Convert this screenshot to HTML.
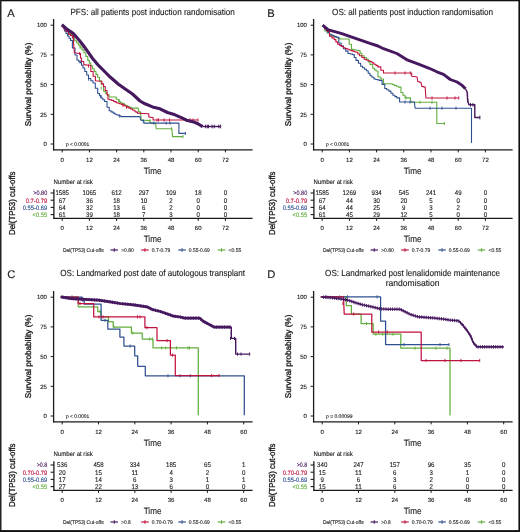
<!DOCTYPE html>
<html><head><meta charset="utf-8"><style>
html,body{margin:0;padding:0;background:#fff;}
svg{display:block;font-family:"Liberation Sans", sans-serif;text-rendering:geometricPrecision;will-change:transform;transform:translateZ(0);}
</style></head><body>
<svg width="520" height="532" viewBox="0 0 520 532">
<rect x="0" y="0" width="520" height="532" fill="#fff"/>
<text x="7.2" y="16.8" font-size="11.2" fill="#1a1a1a" stroke="#1a1a1a" stroke-width="0.12">A</text>
<text x="152.6" y="14.6" font-size="8.9" fill="#1a1a1a" stroke="#1a1a1a" stroke-width="0.12" text-anchor="middle" textLength="164.4" lengthAdjust="spacingAndGlyphs">PFS: all patients post induction randomisation</text>
<text transform="translate(31.3,84.4) rotate(-90)" font-size="8.3" text-anchor="middle" fill="#111" stroke="#111" stroke-width="0.3" textLength="83.5" lengthAdjust="spacingAndGlyphs">Survival probability (%)</text>
<line x1="53.6" y1="19" x2="53.6" y2="150.4" stroke="#1a1a1a" stroke-width="1.3"/>
<line x1="53.0" y1="149.8" x2="252.6" y2="149.8" stroke="#1a1a1a" stroke-width="1.3"/>
<line x1="50.6" y1="25.2" x2="53.6" y2="25.2" stroke="#1a1a1a" stroke-width="1.0"/>
<text x="46.9" y="27.4" font-size="6.0" fill="#1a1a1a" stroke="#1a1a1a" stroke-width="0.12" text-anchor="end">100</text>
<line x1="50.6" y1="54.9" x2="53.6" y2="54.9" stroke="#1a1a1a" stroke-width="1.0"/>
<text x="46.9" y="57.1" font-size="6.0" fill="#1a1a1a" stroke="#1a1a1a" stroke-width="0.12" text-anchor="end">75</text>
<line x1="50.6" y1="84.6" x2="53.6" y2="84.6" stroke="#1a1a1a" stroke-width="1.0"/>
<text x="46.9" y="86.8" font-size="6.0" fill="#1a1a1a" stroke="#1a1a1a" stroke-width="0.12" text-anchor="end">50</text>
<line x1="50.6" y1="114.3" x2="53.6" y2="114.3" stroke="#1a1a1a" stroke-width="1.0"/>
<text x="46.9" y="116.5" font-size="6.0" fill="#1a1a1a" stroke="#1a1a1a" stroke-width="0.12" text-anchor="end">25</text>
<line x1="50.6" y1="144.0" x2="53.6" y2="144.0" stroke="#1a1a1a" stroke-width="1.0"/>
<text x="46.9" y="146.2" font-size="6.0" fill="#1a1a1a" stroke="#1a1a1a" stroke-width="0.12" text-anchor="end">0</text>
<line x1="62.2" y1="149.8" x2="62.2" y2="152.4" stroke="#1a1a1a" stroke-width="1.0"/>
<text x="62.2" y="161.5" font-size="6.0" fill="#1a1a1a" stroke="#1a1a1a" stroke-width="0.12" text-anchor="middle">0</text>
<line x1="89.4" y1="149.8" x2="89.4" y2="152.4" stroke="#1a1a1a" stroke-width="1.0"/>
<text x="89.4" y="161.5" font-size="6.0" fill="#1a1a1a" stroke="#1a1a1a" stroke-width="0.12" text-anchor="middle">12</text>
<line x1="116.6" y1="149.8" x2="116.6" y2="152.4" stroke="#1a1a1a" stroke-width="1.0"/>
<text x="116.6" y="161.5" font-size="6.0" fill="#1a1a1a" stroke="#1a1a1a" stroke-width="0.12" text-anchor="middle">24</text>
<line x1="143.8" y1="149.8" x2="143.8" y2="152.4" stroke="#1a1a1a" stroke-width="1.0"/>
<text x="143.8" y="161.5" font-size="6.0" fill="#1a1a1a" stroke="#1a1a1a" stroke-width="0.12" text-anchor="middle">36</text>
<line x1="171.0" y1="149.8" x2="171.0" y2="152.4" stroke="#1a1a1a" stroke-width="1.0"/>
<text x="171.0" y="161.5" font-size="6.0" fill="#1a1a1a" stroke="#1a1a1a" stroke-width="0.12" text-anchor="middle">48</text>
<line x1="198.2" y1="149.8" x2="198.2" y2="152.4" stroke="#1a1a1a" stroke-width="1.0"/>
<text x="198.2" y="161.5" font-size="6.0" fill="#1a1a1a" stroke="#1a1a1a" stroke-width="0.12" text-anchor="middle">60</text>
<line x1="225.39999999999998" y1="149.8" x2="225.39999999999998" y2="152.4" stroke="#1a1a1a" stroke-width="1.0"/>
<text x="225.39999999999998" y="161.5" font-size="6.0" fill="#1a1a1a" stroke="#1a1a1a" stroke-width="0.12" text-anchor="middle">72</text>
<text x="152.6" y="173.6" font-size="9.2" fill="#1a1a1a" stroke="#1a1a1a" stroke-width="0.12" text-anchor="middle" textLength="17.8" lengthAdjust="spacingAndGlyphs">Time</text>
<text x="66.0" y="145.8" font-size="5.2" fill="#1a1a1a" stroke="#1a1a1a" stroke-width="0.12" textLength="23.2" lengthAdjust="spacingAndGlyphs">p &lt; 0.0001</text>
<text x="53.4" y="184.2" font-size="6.6" fill="#1a1a1a" stroke="#1a1a1a" stroke-width="0.12" textLength="39.4" lengthAdjust="spacingAndGlyphs">Number at risk</text>
<line x1="53.9" y1="189.2" x2="53.9" y2="218.9" stroke="#1a1a1a" stroke-width="1.3"/>
<line x1="53.3" y1="218.3" x2="252.6" y2="218.3" stroke="#1a1a1a" stroke-width="1.3"/>
<line x1="50.6" y1="193.0" x2="53.9" y2="193.0" stroke="#1a1a1a" stroke-width="1.1"/>
<text x="47.2" y="195.3" font-size="6.3" fill="#46185f" stroke="#46185f" stroke-width="0.12" text-anchor="end" textLength="13.9" lengthAdjust="spacingAndGlyphs">&gt;0.80</text>
<text x="62.2" y="195.4" font-size="6.8" fill="#1a1a1a" stroke="#1a1a1a" stroke-width="0.12" text-anchor="middle" textLength="13.6" lengthAdjust="spacingAndGlyphs">1585</text>
<text x="89.4" y="195.4" font-size="6.8" fill="#1a1a1a" stroke="#1a1a1a" stroke-width="0.12" text-anchor="middle" textLength="13.6" lengthAdjust="spacingAndGlyphs">1065</text>
<text x="116.6" y="195.4" font-size="6.8" fill="#1a1a1a" stroke="#1a1a1a" stroke-width="0.12" text-anchor="middle" textLength="10.2" lengthAdjust="spacingAndGlyphs">612</text>
<text x="143.8" y="195.4" font-size="6.8" fill="#1a1a1a" stroke="#1a1a1a" stroke-width="0.12" text-anchor="middle" textLength="10.2" lengthAdjust="spacingAndGlyphs">297</text>
<text x="171.0" y="195.4" font-size="6.8" fill="#1a1a1a" stroke="#1a1a1a" stroke-width="0.12" text-anchor="middle" textLength="10.2" lengthAdjust="spacingAndGlyphs">109</text>
<text x="198.2" y="195.4" font-size="6.8" fill="#1a1a1a" stroke="#1a1a1a" stroke-width="0.12" text-anchor="middle" textLength="6.8" lengthAdjust="spacingAndGlyphs">18</text>
<text x="225.39999999999998" y="195.4" font-size="6.8" fill="#1a1a1a" stroke="#1a1a1a" stroke-width="0.12" text-anchor="middle" textLength="3.4" lengthAdjust="spacingAndGlyphs">0</text>
<line x1="50.6" y1="200.2" x2="53.9" y2="200.2" stroke="#1a1a1a" stroke-width="1.1"/>
<text x="47.2" y="202.5" font-size="6.3" fill="#c0123e" stroke="#c0123e" stroke-width="0.12" text-anchor="end" textLength="21.5" lengthAdjust="spacingAndGlyphs">0.7-0.79</text>
<text x="62.2" y="202.6" font-size="6.8" fill="#1a1a1a" stroke="#1a1a1a" stroke-width="0.12" text-anchor="middle" textLength="6.8" lengthAdjust="spacingAndGlyphs">67</text>
<text x="89.4" y="202.6" font-size="6.8" fill="#1a1a1a" stroke="#1a1a1a" stroke-width="0.12" text-anchor="middle" textLength="6.8" lengthAdjust="spacingAndGlyphs">36</text>
<text x="116.6" y="202.6" font-size="6.8" fill="#1a1a1a" stroke="#1a1a1a" stroke-width="0.12" text-anchor="middle" textLength="6.8" lengthAdjust="spacingAndGlyphs">18</text>
<text x="143.8" y="202.6" font-size="6.8" fill="#1a1a1a" stroke="#1a1a1a" stroke-width="0.12" text-anchor="middle" textLength="6.8" lengthAdjust="spacingAndGlyphs">10</text>
<text x="171.0" y="202.6" font-size="6.8" fill="#1a1a1a" stroke="#1a1a1a" stroke-width="0.12" text-anchor="middle" textLength="3.4" lengthAdjust="spacingAndGlyphs">2</text>
<text x="198.2" y="202.6" font-size="6.8" fill="#1a1a1a" stroke="#1a1a1a" stroke-width="0.12" text-anchor="middle" textLength="3.4" lengthAdjust="spacingAndGlyphs">0</text>
<text x="225.39999999999998" y="202.6" font-size="6.8" fill="#1a1a1a" stroke="#1a1a1a" stroke-width="0.12" text-anchor="middle" textLength="3.4" lengthAdjust="spacingAndGlyphs">0</text>
<line x1="50.6" y1="207.4" x2="53.9" y2="207.4" stroke="#1a1a1a" stroke-width="1.1"/>
<text x="47.2" y="209.70000000000002" font-size="6.3" fill="#2f5090" stroke="#2f5090" stroke-width="0.12" text-anchor="end" textLength="24.5" lengthAdjust="spacingAndGlyphs">0.55-0.69</text>
<text x="62.2" y="209.8" font-size="6.8" fill="#1a1a1a" stroke="#1a1a1a" stroke-width="0.12" text-anchor="middle" textLength="6.8" lengthAdjust="spacingAndGlyphs">64</text>
<text x="89.4" y="209.8" font-size="6.8" fill="#1a1a1a" stroke="#1a1a1a" stroke-width="0.12" text-anchor="middle" textLength="6.8" lengthAdjust="spacingAndGlyphs">32</text>
<text x="116.6" y="209.8" font-size="6.8" fill="#1a1a1a" stroke="#1a1a1a" stroke-width="0.12" text-anchor="middle" textLength="6.8" lengthAdjust="spacingAndGlyphs">13</text>
<text x="143.8" y="209.8" font-size="6.8" fill="#1a1a1a" stroke="#1a1a1a" stroke-width="0.12" text-anchor="middle" textLength="3.4" lengthAdjust="spacingAndGlyphs">6</text>
<text x="171.0" y="209.8" font-size="6.8" fill="#1a1a1a" stroke="#1a1a1a" stroke-width="0.12" text-anchor="middle" textLength="3.4" lengthAdjust="spacingAndGlyphs">2</text>
<text x="198.2" y="209.8" font-size="6.8" fill="#1a1a1a" stroke="#1a1a1a" stroke-width="0.12" text-anchor="middle" textLength="3.4" lengthAdjust="spacingAndGlyphs">0</text>
<text x="225.39999999999998" y="209.8" font-size="6.8" fill="#1a1a1a" stroke="#1a1a1a" stroke-width="0.12" text-anchor="middle" textLength="3.4" lengthAdjust="spacingAndGlyphs">0</text>
<line x1="50.6" y1="214.6" x2="53.9" y2="214.6" stroke="#1a1a1a" stroke-width="1.1"/>
<text x="47.2" y="216.9" font-size="6.3" fill="#62ae3c" stroke="#62ae3c" stroke-width="0.12" text-anchor="end" textLength="14.6" lengthAdjust="spacingAndGlyphs">&lt;0.55</text>
<text x="62.2" y="217.0" font-size="6.8" fill="#1a1a1a" stroke="#1a1a1a" stroke-width="0.12" text-anchor="middle" textLength="6.8" lengthAdjust="spacingAndGlyphs">61</text>
<text x="89.4" y="217.0" font-size="6.8" fill="#1a1a1a" stroke="#1a1a1a" stroke-width="0.12" text-anchor="middle" textLength="6.8" lengthAdjust="spacingAndGlyphs">39</text>
<text x="116.6" y="217.0" font-size="6.8" fill="#1a1a1a" stroke="#1a1a1a" stroke-width="0.12" text-anchor="middle" textLength="6.8" lengthAdjust="spacingAndGlyphs">18</text>
<text x="143.8" y="217.0" font-size="6.8" fill="#1a1a1a" stroke="#1a1a1a" stroke-width="0.12" text-anchor="middle" textLength="3.4" lengthAdjust="spacingAndGlyphs">7</text>
<text x="171.0" y="217.0" font-size="6.8" fill="#1a1a1a" stroke="#1a1a1a" stroke-width="0.12" text-anchor="middle" textLength="3.4" lengthAdjust="spacingAndGlyphs">3</text>
<text x="198.2" y="217.0" font-size="6.8" fill="#1a1a1a" stroke="#1a1a1a" stroke-width="0.12" text-anchor="middle" textLength="3.4" lengthAdjust="spacingAndGlyphs">0</text>
<text x="225.39999999999998" y="217.0" font-size="6.8" fill="#1a1a1a" stroke="#1a1a1a" stroke-width="0.12" text-anchor="middle" textLength="3.4" lengthAdjust="spacingAndGlyphs">0</text>
<line x1="62.2" y1="218.3" x2="62.2" y2="220.9" stroke="#1a1a1a" stroke-width="1.0"/>
<text x="62.2" y="230.3" font-size="6.0" fill="#1a1a1a" stroke="#1a1a1a" stroke-width="0.12" text-anchor="middle">0</text>
<line x1="89.4" y1="218.3" x2="89.4" y2="220.9" stroke="#1a1a1a" stroke-width="1.0"/>
<text x="89.4" y="230.3" font-size="6.0" fill="#1a1a1a" stroke="#1a1a1a" stroke-width="0.12" text-anchor="middle">12</text>
<line x1="116.6" y1="218.3" x2="116.6" y2="220.9" stroke="#1a1a1a" stroke-width="1.0"/>
<text x="116.6" y="230.3" font-size="6.0" fill="#1a1a1a" stroke="#1a1a1a" stroke-width="0.12" text-anchor="middle">24</text>
<line x1="143.8" y1="218.3" x2="143.8" y2="220.9" stroke="#1a1a1a" stroke-width="1.0"/>
<text x="143.8" y="230.3" font-size="6.0" fill="#1a1a1a" stroke="#1a1a1a" stroke-width="0.12" text-anchor="middle">36</text>
<line x1="171.0" y1="218.3" x2="171.0" y2="220.9" stroke="#1a1a1a" stroke-width="1.0"/>
<text x="171.0" y="230.3" font-size="6.0" fill="#1a1a1a" stroke="#1a1a1a" stroke-width="0.12" text-anchor="middle">48</text>
<line x1="198.2" y1="218.3" x2="198.2" y2="220.9" stroke="#1a1a1a" stroke-width="1.0"/>
<text x="198.2" y="230.3" font-size="6.0" fill="#1a1a1a" stroke="#1a1a1a" stroke-width="0.12" text-anchor="middle">60</text>
<line x1="225.39999999999998" y1="218.3" x2="225.39999999999998" y2="220.9" stroke="#1a1a1a" stroke-width="1.0"/>
<text x="225.39999999999998" y="230.3" font-size="6.0" fill="#1a1a1a" stroke="#1a1a1a" stroke-width="0.12" text-anchor="middle">72</text>
<text x="152.6" y="242.3" font-size="9.2" fill="#1a1a1a" stroke="#1a1a1a" stroke-width="0.12" text-anchor="middle" textLength="17.8" lengthAdjust="spacingAndGlyphs">Time</text>
<text transform="translate(14.6,203.2) rotate(-90)" font-size="8.6" text-anchor="middle" fill="#111" stroke="#111" stroke-width="0.3" textLength="63.5" lengthAdjust="spacingAndGlyphs">Del(TP53) cut-offs</text>
<text x="62.9" y="251.9" font-size="5.3" fill="#1a1a1a" stroke="#1a1a1a" stroke-width="0.12" textLength="40.8" lengthAdjust="spacingAndGlyphs">Del(TP53) Cut-offs</text>
<line x1="110.5" y1="250.0" x2="118.0" y2="250.0" stroke="#46185f" stroke-width="1.2"/>
<line x1="114.25" y1="248.2" x2="114.25" y2="251.8" stroke="#46185f" stroke-width="1.0"/>
<text x="121.2" y="251.9" font-size="5.3" fill="#1a1a1a" stroke="#1a1a1a" stroke-width="0.12" textLength="12.5" lengthAdjust="spacingAndGlyphs">&gt;0.80</text>
<line x1="141.2" y1="250.0" x2="148.7" y2="250.0" stroke="#c0123e" stroke-width="1.2"/>
<line x1="144.95" y1="248.2" x2="144.95" y2="251.8" stroke="#c0123e" stroke-width="1.0"/>
<text x="151.8" y="251.9" font-size="5.3" fill="#1a1a1a" stroke="#1a1a1a" stroke-width="0.12" textLength="18.5" lengthAdjust="spacingAndGlyphs">0.7-0.79</text>
<line x1="178.3" y1="250.0" x2="185.8" y2="250.0" stroke="#2f5090" stroke-width="1.2"/>
<line x1="182.05" y1="248.2" x2="182.05" y2="251.8" stroke="#2f5090" stroke-width="1.0"/>
<text x="188.8" y="251.9" font-size="5.3" fill="#1a1a1a" stroke="#1a1a1a" stroke-width="0.12" textLength="21.0" lengthAdjust="spacingAndGlyphs">0.55-0.69</text>
<line x1="217.8" y1="250.0" x2="225.3" y2="250.0" stroke="#62ae3c" stroke-width="1.2"/>
<line x1="221.55" y1="248.2" x2="221.55" y2="251.8" stroke="#62ae3c" stroke-width="1.0"/>
<text x="228.5" y="251.9" font-size="5.3" fill="#1a1a1a" stroke="#1a1a1a" stroke-width="0.12" textLength="12.8" lengthAdjust="spacingAndGlyphs">&lt;0.55</text>
<text x="267.2" y="16.8" font-size="11.2" fill="#1a1a1a" stroke="#1a1a1a" stroke-width="0.12">B</text>
<text x="412.6" y="14.6" font-size="8.9" fill="#1a1a1a" stroke="#1a1a1a" stroke-width="0.12" text-anchor="middle" textLength="161.1" lengthAdjust="spacingAndGlyphs">OS: all patients post induction randomisation</text>
<text transform="translate(291.3,84.4) rotate(-90)" font-size="8.3" text-anchor="middle" fill="#111" stroke="#111" stroke-width="0.3" textLength="83.5" lengthAdjust="spacingAndGlyphs">Survival probability (%)</text>
<line x1="313.6" y1="19" x2="313.6" y2="150.4" stroke="#1a1a1a" stroke-width="1.3"/>
<line x1="313.0" y1="149.8" x2="512.6" y2="149.8" stroke="#1a1a1a" stroke-width="1.3"/>
<line x1="310.6" y1="25.2" x2="313.6" y2="25.2" stroke="#1a1a1a" stroke-width="1.0"/>
<text x="306.9" y="27.4" font-size="6.0" fill="#1a1a1a" stroke="#1a1a1a" stroke-width="0.12" text-anchor="end">100</text>
<line x1="310.6" y1="54.9" x2="313.6" y2="54.9" stroke="#1a1a1a" stroke-width="1.0"/>
<text x="306.9" y="57.1" font-size="6.0" fill="#1a1a1a" stroke="#1a1a1a" stroke-width="0.12" text-anchor="end">75</text>
<line x1="310.6" y1="84.6" x2="313.6" y2="84.6" stroke="#1a1a1a" stroke-width="1.0"/>
<text x="306.9" y="86.8" font-size="6.0" fill="#1a1a1a" stroke="#1a1a1a" stroke-width="0.12" text-anchor="end">50</text>
<line x1="310.6" y1="114.3" x2="313.6" y2="114.3" stroke="#1a1a1a" stroke-width="1.0"/>
<text x="306.9" y="116.5" font-size="6.0" fill="#1a1a1a" stroke="#1a1a1a" stroke-width="0.12" text-anchor="end">25</text>
<line x1="310.6" y1="144.0" x2="313.6" y2="144.0" stroke="#1a1a1a" stroke-width="1.0"/>
<text x="306.9" y="146.2" font-size="6.0" fill="#1a1a1a" stroke="#1a1a1a" stroke-width="0.12" text-anchor="end">0</text>
<line x1="322.2" y1="149.8" x2="322.2" y2="152.4" stroke="#1a1a1a" stroke-width="1.0"/>
<text x="322.2" y="161.5" font-size="6.0" fill="#1a1a1a" stroke="#1a1a1a" stroke-width="0.12" text-anchor="middle">0</text>
<line x1="349.4" y1="149.8" x2="349.4" y2="152.4" stroke="#1a1a1a" stroke-width="1.0"/>
<text x="349.4" y="161.5" font-size="6.0" fill="#1a1a1a" stroke="#1a1a1a" stroke-width="0.12" text-anchor="middle">12</text>
<line x1="376.59999999999997" y1="149.8" x2="376.59999999999997" y2="152.4" stroke="#1a1a1a" stroke-width="1.0"/>
<text x="376.59999999999997" y="161.5" font-size="6.0" fill="#1a1a1a" stroke="#1a1a1a" stroke-width="0.12" text-anchor="middle">24</text>
<line x1="403.79999999999995" y1="149.8" x2="403.79999999999995" y2="152.4" stroke="#1a1a1a" stroke-width="1.0"/>
<text x="403.79999999999995" y="161.5" font-size="6.0" fill="#1a1a1a" stroke="#1a1a1a" stroke-width="0.12" text-anchor="middle">36</text>
<line x1="431.0" y1="149.8" x2="431.0" y2="152.4" stroke="#1a1a1a" stroke-width="1.0"/>
<text x="431.0" y="161.5" font-size="6.0" fill="#1a1a1a" stroke="#1a1a1a" stroke-width="0.12" text-anchor="middle">48</text>
<line x1="458.2" y1="149.8" x2="458.2" y2="152.4" stroke="#1a1a1a" stroke-width="1.0"/>
<text x="458.2" y="161.5" font-size="6.0" fill="#1a1a1a" stroke="#1a1a1a" stroke-width="0.12" text-anchor="middle">60</text>
<line x1="485.4" y1="149.8" x2="485.4" y2="152.4" stroke="#1a1a1a" stroke-width="1.0"/>
<text x="485.4" y="161.5" font-size="6.0" fill="#1a1a1a" stroke="#1a1a1a" stroke-width="0.12" text-anchor="middle">72</text>
<text x="412.6" y="173.6" font-size="9.2" fill="#1a1a1a" stroke="#1a1a1a" stroke-width="0.12" text-anchor="middle" textLength="17.8" lengthAdjust="spacingAndGlyphs">Time</text>
<text x="326.0" y="145.8" font-size="5.2" fill="#1a1a1a" stroke="#1a1a1a" stroke-width="0.12" textLength="23.2" lengthAdjust="spacingAndGlyphs">p &lt; 0.0001</text>
<text x="313.4" y="184.2" font-size="6.6" fill="#1a1a1a" stroke="#1a1a1a" stroke-width="0.12" textLength="39.4" lengthAdjust="spacingAndGlyphs">Number at risk</text>
<line x1="313.9" y1="189.2" x2="313.9" y2="218.9" stroke="#1a1a1a" stroke-width="1.3"/>
<line x1="313.3" y1="218.3" x2="512.6" y2="218.3" stroke="#1a1a1a" stroke-width="1.3"/>
<line x1="310.6" y1="193.0" x2="313.9" y2="193.0" stroke="#1a1a1a" stroke-width="1.1"/>
<text x="307.2" y="195.3" font-size="6.3" fill="#46185f" stroke="#46185f" stroke-width="0.12" text-anchor="end" textLength="13.9" lengthAdjust="spacingAndGlyphs">&gt;0.80</text>
<text x="322.2" y="195.4" font-size="6.8" fill="#1a1a1a" stroke="#1a1a1a" stroke-width="0.12" text-anchor="middle" textLength="13.6" lengthAdjust="spacingAndGlyphs">1585</text>
<text x="349.4" y="195.4" font-size="6.8" fill="#1a1a1a" stroke="#1a1a1a" stroke-width="0.12" text-anchor="middle" textLength="13.6" lengthAdjust="spacingAndGlyphs">1269</text>
<text x="376.59999999999997" y="195.4" font-size="6.8" fill="#1a1a1a" stroke="#1a1a1a" stroke-width="0.12" text-anchor="middle" textLength="10.2" lengthAdjust="spacingAndGlyphs">934</text>
<text x="403.79999999999995" y="195.4" font-size="6.8" fill="#1a1a1a" stroke="#1a1a1a" stroke-width="0.12" text-anchor="middle" textLength="10.2" lengthAdjust="spacingAndGlyphs">545</text>
<text x="431.0" y="195.4" font-size="6.8" fill="#1a1a1a" stroke="#1a1a1a" stroke-width="0.12" text-anchor="middle" textLength="10.2" lengthAdjust="spacingAndGlyphs">241</text>
<text x="458.2" y="195.4" font-size="6.8" fill="#1a1a1a" stroke="#1a1a1a" stroke-width="0.12" text-anchor="middle" textLength="6.8" lengthAdjust="spacingAndGlyphs">49</text>
<text x="485.4" y="195.4" font-size="6.8" fill="#1a1a1a" stroke="#1a1a1a" stroke-width="0.12" text-anchor="middle" textLength="3.4" lengthAdjust="spacingAndGlyphs">0</text>
<line x1="310.6" y1="200.2" x2="313.9" y2="200.2" stroke="#1a1a1a" stroke-width="1.1"/>
<text x="307.2" y="202.5" font-size="6.3" fill="#c0123e" stroke="#c0123e" stroke-width="0.12" text-anchor="end" textLength="21.5" lengthAdjust="spacingAndGlyphs">0.7-0.79</text>
<text x="322.2" y="202.6" font-size="6.8" fill="#1a1a1a" stroke="#1a1a1a" stroke-width="0.12" text-anchor="middle" textLength="6.8" lengthAdjust="spacingAndGlyphs">67</text>
<text x="349.4" y="202.6" font-size="6.8" fill="#1a1a1a" stroke="#1a1a1a" stroke-width="0.12" text-anchor="middle" textLength="6.8" lengthAdjust="spacingAndGlyphs">44</text>
<text x="376.59999999999997" y="202.6" font-size="6.8" fill="#1a1a1a" stroke="#1a1a1a" stroke-width="0.12" text-anchor="middle" textLength="6.8" lengthAdjust="spacingAndGlyphs">30</text>
<text x="403.79999999999995" y="202.6" font-size="6.8" fill="#1a1a1a" stroke="#1a1a1a" stroke-width="0.12" text-anchor="middle" textLength="6.8" lengthAdjust="spacingAndGlyphs">20</text>
<text x="431.0" y="202.6" font-size="6.8" fill="#1a1a1a" stroke="#1a1a1a" stroke-width="0.12" text-anchor="middle" textLength="3.4" lengthAdjust="spacingAndGlyphs">5</text>
<text x="458.2" y="202.6" font-size="6.8" fill="#1a1a1a" stroke="#1a1a1a" stroke-width="0.12" text-anchor="middle" textLength="3.4" lengthAdjust="spacingAndGlyphs">0</text>
<text x="485.4" y="202.6" font-size="6.8" fill="#1a1a1a" stroke="#1a1a1a" stroke-width="0.12" text-anchor="middle" textLength="3.4" lengthAdjust="spacingAndGlyphs">0</text>
<line x1="310.6" y1="207.4" x2="313.9" y2="207.4" stroke="#1a1a1a" stroke-width="1.1"/>
<text x="307.2" y="209.70000000000002" font-size="6.3" fill="#2f5090" stroke="#2f5090" stroke-width="0.12" text-anchor="end" textLength="24.5" lengthAdjust="spacingAndGlyphs">0.55-0.69</text>
<text x="322.2" y="209.8" font-size="6.8" fill="#1a1a1a" stroke="#1a1a1a" stroke-width="0.12" text-anchor="middle" textLength="6.8" lengthAdjust="spacingAndGlyphs">64</text>
<text x="349.4" y="209.8" font-size="6.8" fill="#1a1a1a" stroke="#1a1a1a" stroke-width="0.12" text-anchor="middle" textLength="6.8" lengthAdjust="spacingAndGlyphs">44</text>
<text x="376.59999999999997" y="209.8" font-size="6.8" fill="#1a1a1a" stroke="#1a1a1a" stroke-width="0.12" text-anchor="middle" textLength="6.8" lengthAdjust="spacingAndGlyphs">25</text>
<text x="403.79999999999995" y="209.8" font-size="6.8" fill="#1a1a1a" stroke="#1a1a1a" stroke-width="0.12" text-anchor="middle" textLength="3.4" lengthAdjust="spacingAndGlyphs">9</text>
<text x="431.0" y="209.8" font-size="6.8" fill="#1a1a1a" stroke="#1a1a1a" stroke-width="0.12" text-anchor="middle" textLength="3.4" lengthAdjust="spacingAndGlyphs">3</text>
<text x="458.2" y="209.8" font-size="6.8" fill="#1a1a1a" stroke="#1a1a1a" stroke-width="0.12" text-anchor="middle" textLength="3.4" lengthAdjust="spacingAndGlyphs">2</text>
<text x="485.4" y="209.8" font-size="6.8" fill="#1a1a1a" stroke="#1a1a1a" stroke-width="0.12" text-anchor="middle" textLength="3.4" lengthAdjust="spacingAndGlyphs">0</text>
<line x1="310.6" y1="214.6" x2="313.9" y2="214.6" stroke="#1a1a1a" stroke-width="1.1"/>
<text x="307.2" y="216.9" font-size="6.3" fill="#62ae3c" stroke="#62ae3c" stroke-width="0.12" text-anchor="end" textLength="14.6" lengthAdjust="spacingAndGlyphs">&lt;0.55</text>
<text x="322.2" y="217.0" font-size="6.8" fill="#1a1a1a" stroke="#1a1a1a" stroke-width="0.12" text-anchor="middle" textLength="6.8" lengthAdjust="spacingAndGlyphs">61</text>
<text x="349.4" y="217.0" font-size="6.8" fill="#1a1a1a" stroke="#1a1a1a" stroke-width="0.12" text-anchor="middle" textLength="6.8" lengthAdjust="spacingAndGlyphs">45</text>
<text x="376.59999999999997" y="217.0" font-size="6.8" fill="#1a1a1a" stroke="#1a1a1a" stroke-width="0.12" text-anchor="middle" textLength="6.8" lengthAdjust="spacingAndGlyphs">29</text>
<text x="403.79999999999995" y="217.0" font-size="6.8" fill="#1a1a1a" stroke="#1a1a1a" stroke-width="0.12" text-anchor="middle" textLength="6.8" lengthAdjust="spacingAndGlyphs">12</text>
<text x="431.0" y="217.0" font-size="6.8" fill="#1a1a1a" stroke="#1a1a1a" stroke-width="0.12" text-anchor="middle" textLength="3.4" lengthAdjust="spacingAndGlyphs">5</text>
<text x="458.2" y="217.0" font-size="6.8" fill="#1a1a1a" stroke="#1a1a1a" stroke-width="0.12" text-anchor="middle" textLength="3.4" lengthAdjust="spacingAndGlyphs">0</text>
<text x="485.4" y="217.0" font-size="6.8" fill="#1a1a1a" stroke="#1a1a1a" stroke-width="0.12" text-anchor="middle" textLength="3.4" lengthAdjust="spacingAndGlyphs">0</text>
<line x1="322.2" y1="218.3" x2="322.2" y2="220.9" stroke="#1a1a1a" stroke-width="1.0"/>
<text x="322.2" y="230.3" font-size="6.0" fill="#1a1a1a" stroke="#1a1a1a" stroke-width="0.12" text-anchor="middle">0</text>
<line x1="349.4" y1="218.3" x2="349.4" y2="220.9" stroke="#1a1a1a" stroke-width="1.0"/>
<text x="349.4" y="230.3" font-size="6.0" fill="#1a1a1a" stroke="#1a1a1a" stroke-width="0.12" text-anchor="middle">12</text>
<line x1="376.59999999999997" y1="218.3" x2="376.59999999999997" y2="220.9" stroke="#1a1a1a" stroke-width="1.0"/>
<text x="376.59999999999997" y="230.3" font-size="6.0" fill="#1a1a1a" stroke="#1a1a1a" stroke-width="0.12" text-anchor="middle">24</text>
<line x1="403.79999999999995" y1="218.3" x2="403.79999999999995" y2="220.9" stroke="#1a1a1a" stroke-width="1.0"/>
<text x="403.79999999999995" y="230.3" font-size="6.0" fill="#1a1a1a" stroke="#1a1a1a" stroke-width="0.12" text-anchor="middle">36</text>
<line x1="431.0" y1="218.3" x2="431.0" y2="220.9" stroke="#1a1a1a" stroke-width="1.0"/>
<text x="431.0" y="230.3" font-size="6.0" fill="#1a1a1a" stroke="#1a1a1a" stroke-width="0.12" text-anchor="middle">48</text>
<line x1="458.2" y1="218.3" x2="458.2" y2="220.9" stroke="#1a1a1a" stroke-width="1.0"/>
<text x="458.2" y="230.3" font-size="6.0" fill="#1a1a1a" stroke="#1a1a1a" stroke-width="0.12" text-anchor="middle">60</text>
<line x1="485.4" y1="218.3" x2="485.4" y2="220.9" stroke="#1a1a1a" stroke-width="1.0"/>
<text x="485.4" y="230.3" font-size="6.0" fill="#1a1a1a" stroke="#1a1a1a" stroke-width="0.12" text-anchor="middle">72</text>
<text x="412.6" y="242.3" font-size="9.2" fill="#1a1a1a" stroke="#1a1a1a" stroke-width="0.12" text-anchor="middle" textLength="17.8" lengthAdjust="spacingAndGlyphs">Time</text>
<text transform="translate(274.6,203.2) rotate(-90)" font-size="8.6" text-anchor="middle" fill="#111" stroke="#111" stroke-width="0.3" textLength="63.5" lengthAdjust="spacingAndGlyphs">Del(TP53) cut-offs</text>
<text x="322.9" y="251.9" font-size="5.3" fill="#1a1a1a" stroke="#1a1a1a" stroke-width="0.12" textLength="40.8" lengthAdjust="spacingAndGlyphs">Del(TP53) Cut-offs</text>
<line x1="370.5" y1="250.0" x2="378.0" y2="250.0" stroke="#46185f" stroke-width="1.2"/>
<line x1="374.25" y1="248.2" x2="374.25" y2="251.8" stroke="#46185f" stroke-width="1.0"/>
<text x="381.2" y="251.9" font-size="5.3" fill="#1a1a1a" stroke="#1a1a1a" stroke-width="0.12" textLength="12.5" lengthAdjust="spacingAndGlyphs">&gt;0.80</text>
<line x1="401.2" y1="250.0" x2="408.7" y2="250.0" stroke="#c0123e" stroke-width="1.2"/>
<line x1="404.95" y1="248.2" x2="404.95" y2="251.8" stroke="#c0123e" stroke-width="1.0"/>
<text x="411.8" y="251.9" font-size="5.3" fill="#1a1a1a" stroke="#1a1a1a" stroke-width="0.12" textLength="18.5" lengthAdjust="spacingAndGlyphs">0.7-0.79</text>
<line x1="438.3" y1="250.0" x2="445.8" y2="250.0" stroke="#2f5090" stroke-width="1.2"/>
<line x1="442.05" y1="248.2" x2="442.05" y2="251.8" stroke="#2f5090" stroke-width="1.0"/>
<text x="448.8" y="251.9" font-size="5.3" fill="#1a1a1a" stroke="#1a1a1a" stroke-width="0.12" textLength="21.0" lengthAdjust="spacingAndGlyphs">0.55-0.69</text>
<line x1="477.8" y1="250.0" x2="485.3" y2="250.0" stroke="#62ae3c" stroke-width="1.2"/>
<line x1="481.55" y1="248.2" x2="481.55" y2="251.8" stroke="#62ae3c" stroke-width="1.0"/>
<text x="488.5" y="251.9" font-size="5.3" fill="#1a1a1a" stroke="#1a1a1a" stroke-width="0.12" textLength="12.8" lengthAdjust="spacingAndGlyphs">&lt;0.55</text>
<text x="7.2" y="278.3" font-size="11.2" fill="#1a1a1a" stroke="#1a1a1a" stroke-width="0.12">C</text>
<text x="152.6" y="275.8" font-size="8.9" fill="#1a1a1a" stroke="#1a1a1a" stroke-width="0.12" text-anchor="middle" textLength="184.6" lengthAdjust="spacingAndGlyphs">OS: Landmarked post date of autologous transplant</text>
<text transform="translate(31.3,356.4) rotate(-90)" font-size="8.3" text-anchor="middle" fill="#111" stroke="#111" stroke-width="0.3" textLength="83.5" lengthAdjust="spacingAndGlyphs">Survival probability (%)</text>
<line x1="53.6" y1="291" x2="53.6" y2="422.4" stroke="#1a1a1a" stroke-width="1.3"/>
<line x1="53.0" y1="421.8" x2="252.6" y2="421.8" stroke="#1a1a1a" stroke-width="1.3"/>
<line x1="50.6" y1="297.2" x2="53.6" y2="297.2" stroke="#1a1a1a" stroke-width="1.0"/>
<text x="46.9" y="299.4" font-size="6.0" fill="#1a1a1a" stroke="#1a1a1a" stroke-width="0.12" text-anchor="end">100</text>
<line x1="50.6" y1="326.9" x2="53.6" y2="326.9" stroke="#1a1a1a" stroke-width="1.0"/>
<text x="46.9" y="329.09999999999997" font-size="6.0" fill="#1a1a1a" stroke="#1a1a1a" stroke-width="0.12" text-anchor="end">75</text>
<line x1="50.6" y1="356.59999999999997" x2="53.6" y2="356.59999999999997" stroke="#1a1a1a" stroke-width="1.0"/>
<text x="46.9" y="358.79999999999995" font-size="6.0" fill="#1a1a1a" stroke="#1a1a1a" stroke-width="0.12" text-anchor="end">50</text>
<line x1="50.6" y1="386.29999999999995" x2="53.6" y2="386.29999999999995" stroke="#1a1a1a" stroke-width="1.0"/>
<text x="46.9" y="388.49999999999994" font-size="6.0" fill="#1a1a1a" stroke="#1a1a1a" stroke-width="0.12" text-anchor="end">25</text>
<line x1="50.6" y1="416.0" x2="53.6" y2="416.0" stroke="#1a1a1a" stroke-width="1.0"/>
<text x="46.9" y="418.2" font-size="6.0" fill="#1a1a1a" stroke="#1a1a1a" stroke-width="0.12" text-anchor="end">0</text>
<line x1="62.2" y1="421.8" x2="62.2" y2="424.4" stroke="#1a1a1a" stroke-width="1.0"/>
<text x="62.2" y="433.5" font-size="6.0" fill="#1a1a1a" stroke="#1a1a1a" stroke-width="0.12" text-anchor="middle">0</text>
<line x1="98.5" y1="421.8" x2="98.5" y2="424.4" stroke="#1a1a1a" stroke-width="1.0"/>
<text x="98.5" y="433.5" font-size="6.0" fill="#1a1a1a" stroke="#1a1a1a" stroke-width="0.12" text-anchor="middle">12</text>
<line x1="134.8" y1="421.8" x2="134.8" y2="424.4" stroke="#1a1a1a" stroke-width="1.0"/>
<text x="134.8" y="433.5" font-size="6.0" fill="#1a1a1a" stroke="#1a1a1a" stroke-width="0.12" text-anchor="middle">24</text>
<line x1="171.1" y1="421.8" x2="171.1" y2="424.4" stroke="#1a1a1a" stroke-width="1.0"/>
<text x="171.1" y="433.5" font-size="6.0" fill="#1a1a1a" stroke="#1a1a1a" stroke-width="0.12" text-anchor="middle">36</text>
<line x1="207.39999999999998" y1="421.8" x2="207.39999999999998" y2="424.4" stroke="#1a1a1a" stroke-width="1.0"/>
<text x="207.39999999999998" y="433.5" font-size="6.0" fill="#1a1a1a" stroke="#1a1a1a" stroke-width="0.12" text-anchor="middle">48</text>
<line x1="243.7" y1="421.8" x2="243.7" y2="424.4" stroke="#1a1a1a" stroke-width="1.0"/>
<text x="243.7" y="433.5" font-size="6.0" fill="#1a1a1a" stroke="#1a1a1a" stroke-width="0.12" text-anchor="middle">60</text>
<text x="152.6" y="445.6" font-size="9.2" fill="#1a1a1a" stroke="#1a1a1a" stroke-width="0.12" text-anchor="middle" textLength="17.8" lengthAdjust="spacingAndGlyphs">Time</text>
<text x="66.0" y="417.8" font-size="5.2" fill="#1a1a1a" stroke="#1a1a1a" stroke-width="0.12" textLength="23.2" lengthAdjust="spacingAndGlyphs">p &lt; 0.0001</text>
<text x="53.4" y="456.2" font-size="6.6" fill="#1a1a1a" stroke="#1a1a1a" stroke-width="0.12" textLength="39.4" lengthAdjust="spacingAndGlyphs">Number at risk</text>
<line x1="53.9" y1="461.2" x2="53.9" y2="490.9" stroke="#1a1a1a" stroke-width="1.3"/>
<line x1="53.3" y1="490.3" x2="252.6" y2="490.3" stroke="#1a1a1a" stroke-width="1.3"/>
<line x1="50.6" y1="465.0" x2="53.9" y2="465.0" stroke="#1a1a1a" stroke-width="1.1"/>
<text x="47.2" y="467.3" font-size="6.3" fill="#46185f" stroke="#46185f" stroke-width="0.12" text-anchor="end" textLength="10.5" lengthAdjust="spacingAndGlyphs">&gt;0.8</text>
<text x="62.2" y="467.4" font-size="6.8" fill="#1a1a1a" stroke="#1a1a1a" stroke-width="0.12" text-anchor="middle" textLength="10.2" lengthAdjust="spacingAndGlyphs">536</text>
<text x="98.5" y="467.4" font-size="6.8" fill="#1a1a1a" stroke="#1a1a1a" stroke-width="0.12" text-anchor="middle" textLength="10.2" lengthAdjust="spacingAndGlyphs">458</text>
<text x="134.8" y="467.4" font-size="6.8" fill="#1a1a1a" stroke="#1a1a1a" stroke-width="0.12" text-anchor="middle" textLength="10.2" lengthAdjust="spacingAndGlyphs">334</text>
<text x="171.1" y="467.4" font-size="6.8" fill="#1a1a1a" stroke="#1a1a1a" stroke-width="0.12" text-anchor="middle" textLength="10.2" lengthAdjust="spacingAndGlyphs">185</text>
<text x="207.39999999999998" y="467.4" font-size="6.8" fill="#1a1a1a" stroke="#1a1a1a" stroke-width="0.12" text-anchor="middle" textLength="6.8" lengthAdjust="spacingAndGlyphs">65</text>
<text x="243.7" y="467.4" font-size="6.8" fill="#1a1a1a" stroke="#1a1a1a" stroke-width="0.12" text-anchor="middle" textLength="3.4" lengthAdjust="spacingAndGlyphs">1</text>
<line x1="50.6" y1="472.2" x2="53.9" y2="472.2" stroke="#1a1a1a" stroke-width="1.1"/>
<text x="47.2" y="474.5" font-size="6.3" fill="#c0123e" stroke="#c0123e" stroke-width="0.12" text-anchor="end" textLength="24.5" lengthAdjust="spacingAndGlyphs">0.70-0.79</text>
<text x="62.2" y="474.59999999999997" font-size="6.8" fill="#1a1a1a" stroke="#1a1a1a" stroke-width="0.12" text-anchor="middle" textLength="6.8" lengthAdjust="spacingAndGlyphs">20</text>
<text x="98.5" y="474.59999999999997" font-size="6.8" fill="#1a1a1a" stroke="#1a1a1a" stroke-width="0.12" text-anchor="middle" textLength="6.8" lengthAdjust="spacingAndGlyphs">15</text>
<text x="134.8" y="474.59999999999997" font-size="6.8" fill="#1a1a1a" stroke="#1a1a1a" stroke-width="0.12" text-anchor="middle" textLength="6.8" lengthAdjust="spacingAndGlyphs">11</text>
<text x="171.1" y="474.59999999999997" font-size="6.8" fill="#1a1a1a" stroke="#1a1a1a" stroke-width="0.12" text-anchor="middle" textLength="3.4" lengthAdjust="spacingAndGlyphs">4</text>
<text x="207.39999999999998" y="474.59999999999997" font-size="6.8" fill="#1a1a1a" stroke="#1a1a1a" stroke-width="0.12" text-anchor="middle" textLength="3.4" lengthAdjust="spacingAndGlyphs">2</text>
<text x="243.7" y="474.59999999999997" font-size="6.8" fill="#1a1a1a" stroke="#1a1a1a" stroke-width="0.12" text-anchor="middle" textLength="3.4" lengthAdjust="spacingAndGlyphs">0</text>
<line x1="50.6" y1="479.4" x2="53.9" y2="479.4" stroke="#1a1a1a" stroke-width="1.1"/>
<text x="47.2" y="481.7" font-size="6.3" fill="#2f5090" stroke="#2f5090" stroke-width="0.12" text-anchor="end" textLength="24.5" lengthAdjust="spacingAndGlyphs">0.55-0.69</text>
<text x="62.2" y="481.79999999999995" font-size="6.8" fill="#1a1a1a" stroke="#1a1a1a" stroke-width="0.12" text-anchor="middle" textLength="6.8" lengthAdjust="spacingAndGlyphs">17</text>
<text x="98.5" y="481.79999999999995" font-size="6.8" fill="#1a1a1a" stroke="#1a1a1a" stroke-width="0.12" text-anchor="middle" textLength="6.8" lengthAdjust="spacingAndGlyphs">14</text>
<text x="134.8" y="481.79999999999995" font-size="6.8" fill="#1a1a1a" stroke="#1a1a1a" stroke-width="0.12" text-anchor="middle" textLength="3.4" lengthAdjust="spacingAndGlyphs">6</text>
<text x="171.1" y="481.79999999999995" font-size="6.8" fill="#1a1a1a" stroke="#1a1a1a" stroke-width="0.12" text-anchor="middle" textLength="3.4" lengthAdjust="spacingAndGlyphs">3</text>
<text x="207.39999999999998" y="481.79999999999995" font-size="6.8" fill="#1a1a1a" stroke="#1a1a1a" stroke-width="0.12" text-anchor="middle" textLength="3.4" lengthAdjust="spacingAndGlyphs">1</text>
<text x="243.7" y="481.79999999999995" font-size="6.8" fill="#1a1a1a" stroke="#1a1a1a" stroke-width="0.12" text-anchor="middle" textLength="3.4" lengthAdjust="spacingAndGlyphs">1</text>
<line x1="50.6" y1="486.6" x2="53.9" y2="486.6" stroke="#1a1a1a" stroke-width="1.1"/>
<text x="47.2" y="488.90000000000003" font-size="6.3" fill="#62ae3c" stroke="#62ae3c" stroke-width="0.12" text-anchor="end" textLength="14.6" lengthAdjust="spacingAndGlyphs">&lt;0.55</text>
<text x="62.2" y="489.0" font-size="6.8" fill="#1a1a1a" stroke="#1a1a1a" stroke-width="0.12" text-anchor="middle" textLength="6.8" lengthAdjust="spacingAndGlyphs">27</text>
<text x="98.5" y="489.0" font-size="6.8" fill="#1a1a1a" stroke="#1a1a1a" stroke-width="0.12" text-anchor="middle" textLength="6.8" lengthAdjust="spacingAndGlyphs">22</text>
<text x="134.8" y="489.0" font-size="6.8" fill="#1a1a1a" stroke="#1a1a1a" stroke-width="0.12" text-anchor="middle" textLength="6.8" lengthAdjust="spacingAndGlyphs">13</text>
<text x="171.1" y="489.0" font-size="6.8" fill="#1a1a1a" stroke="#1a1a1a" stroke-width="0.12" text-anchor="middle" textLength="3.4" lengthAdjust="spacingAndGlyphs">6</text>
<text x="207.39999999999998" y="489.0" font-size="6.8" fill="#1a1a1a" stroke="#1a1a1a" stroke-width="0.12" text-anchor="middle" textLength="3.4" lengthAdjust="spacingAndGlyphs">0</text>
<text x="243.7" y="489.0" font-size="6.8" fill="#1a1a1a" stroke="#1a1a1a" stroke-width="0.12" text-anchor="middle" textLength="3.4" lengthAdjust="spacingAndGlyphs">0</text>
<line x1="62.2" y1="490.3" x2="62.2" y2="492.9" stroke="#1a1a1a" stroke-width="1.0"/>
<text x="62.2" y="502.3" font-size="6.0" fill="#1a1a1a" stroke="#1a1a1a" stroke-width="0.12" text-anchor="middle">0</text>
<line x1="98.5" y1="490.3" x2="98.5" y2="492.9" stroke="#1a1a1a" stroke-width="1.0"/>
<text x="98.5" y="502.3" font-size="6.0" fill="#1a1a1a" stroke="#1a1a1a" stroke-width="0.12" text-anchor="middle">12</text>
<line x1="134.8" y1="490.3" x2="134.8" y2="492.9" stroke="#1a1a1a" stroke-width="1.0"/>
<text x="134.8" y="502.3" font-size="6.0" fill="#1a1a1a" stroke="#1a1a1a" stroke-width="0.12" text-anchor="middle">24</text>
<line x1="171.1" y1="490.3" x2="171.1" y2="492.9" stroke="#1a1a1a" stroke-width="1.0"/>
<text x="171.1" y="502.3" font-size="6.0" fill="#1a1a1a" stroke="#1a1a1a" stroke-width="0.12" text-anchor="middle">36</text>
<line x1="207.39999999999998" y1="490.3" x2="207.39999999999998" y2="492.9" stroke="#1a1a1a" stroke-width="1.0"/>
<text x="207.39999999999998" y="502.3" font-size="6.0" fill="#1a1a1a" stroke="#1a1a1a" stroke-width="0.12" text-anchor="middle">48</text>
<line x1="243.7" y1="490.3" x2="243.7" y2="492.9" stroke="#1a1a1a" stroke-width="1.0"/>
<text x="243.7" y="502.3" font-size="6.0" fill="#1a1a1a" stroke="#1a1a1a" stroke-width="0.12" text-anchor="middle">60</text>
<text x="152.6" y="514.3" font-size="9.2" fill="#1a1a1a" stroke="#1a1a1a" stroke-width="0.12" text-anchor="middle" textLength="17.8" lengthAdjust="spacingAndGlyphs">Time</text>
<text transform="translate(14.6,475.2) rotate(-90)" font-size="8.6" text-anchor="middle" fill="#111" stroke="#111" stroke-width="0.3" textLength="63.5" lengthAdjust="spacingAndGlyphs">Del(TP53) cut-offs</text>
<text x="62.9" y="523.9" font-size="5.3" fill="#1a1a1a" stroke="#1a1a1a" stroke-width="0.12" textLength="40.8" lengthAdjust="spacingAndGlyphs">Del(TP53) Cut-offs</text>
<line x1="110.5" y1="522.0" x2="118.0" y2="522.0" stroke="#46185f" stroke-width="1.2"/>
<line x1="114.25" y1="520.2" x2="114.25" y2="523.8" stroke="#46185f" stroke-width="1.0"/>
<text x="121.2" y="523.9" font-size="5.3" fill="#1a1a1a" stroke="#1a1a1a" stroke-width="0.12" textLength="9.4" lengthAdjust="spacingAndGlyphs">&gt;0.8</text>
<line x1="141.2" y1="522.0" x2="148.7" y2="522.0" stroke="#c0123e" stroke-width="1.2"/>
<line x1="144.95" y1="520.2" x2="144.95" y2="523.8" stroke="#c0123e" stroke-width="1.0"/>
<text x="151.8" y="523.9" font-size="5.3" fill="#1a1a1a" stroke="#1a1a1a" stroke-width="0.12" textLength="21.0" lengthAdjust="spacingAndGlyphs">0.70-0.79</text>
<line x1="178.3" y1="522.0" x2="185.8" y2="522.0" stroke="#2f5090" stroke-width="1.2"/>
<line x1="182.05" y1="520.2" x2="182.05" y2="523.8" stroke="#2f5090" stroke-width="1.0"/>
<text x="188.8" y="523.9" font-size="5.3" fill="#1a1a1a" stroke="#1a1a1a" stroke-width="0.12" textLength="21.0" lengthAdjust="spacingAndGlyphs">0.55-0.69</text>
<line x1="217.8" y1="522.0" x2="225.3" y2="522.0" stroke="#62ae3c" stroke-width="1.2"/>
<line x1="221.55" y1="520.2" x2="221.55" y2="523.8" stroke="#62ae3c" stroke-width="1.0"/>
<text x="228.5" y="523.9" font-size="5.3" fill="#1a1a1a" stroke="#1a1a1a" stroke-width="0.12" textLength="12.8" lengthAdjust="spacingAndGlyphs">&lt;0.55</text>
<text x="267.2" y="278.3" font-size="11.2" fill="#1a1a1a" stroke="#1a1a1a" stroke-width="0.12">D</text>
<text x="412.6" y="275.8" font-size="8.9" fill="#1a1a1a" stroke="#1a1a1a" stroke-width="0.12" text-anchor="middle" textLength="175.0" lengthAdjust="spacingAndGlyphs">OS: Landmarked post lenalidomide maintenance</text>
<text x="412.6" y="286.0" font-size="8.9" fill="#1a1a1a" stroke="#1a1a1a" stroke-width="0.12" text-anchor="middle" textLength="53.8" lengthAdjust="spacingAndGlyphs">randomisation</text>
<text transform="translate(291.3,356.4) rotate(-90)" font-size="8.3" text-anchor="middle" fill="#111" stroke="#111" stroke-width="0.3" textLength="83.5" lengthAdjust="spacingAndGlyphs">Survival probability (%)</text>
<line x1="313.6" y1="291" x2="313.6" y2="422.4" stroke="#1a1a1a" stroke-width="1.3"/>
<line x1="313.0" y1="421.8" x2="512.6" y2="421.8" stroke="#1a1a1a" stroke-width="1.3"/>
<line x1="310.6" y1="297.2" x2="313.6" y2="297.2" stroke="#1a1a1a" stroke-width="1.0"/>
<text x="306.9" y="299.4" font-size="6.0" fill="#1a1a1a" stroke="#1a1a1a" stroke-width="0.12" text-anchor="end">100</text>
<line x1="310.6" y1="326.9" x2="313.6" y2="326.9" stroke="#1a1a1a" stroke-width="1.0"/>
<text x="306.9" y="329.09999999999997" font-size="6.0" fill="#1a1a1a" stroke="#1a1a1a" stroke-width="0.12" text-anchor="end">75</text>
<line x1="310.6" y1="356.59999999999997" x2="313.6" y2="356.59999999999997" stroke="#1a1a1a" stroke-width="1.0"/>
<text x="306.9" y="358.79999999999995" font-size="6.0" fill="#1a1a1a" stroke="#1a1a1a" stroke-width="0.12" text-anchor="end">50</text>
<line x1="310.6" y1="386.29999999999995" x2="313.6" y2="386.29999999999995" stroke="#1a1a1a" stroke-width="1.0"/>
<text x="306.9" y="388.49999999999994" font-size="6.0" fill="#1a1a1a" stroke="#1a1a1a" stroke-width="0.12" text-anchor="end">25</text>
<line x1="310.6" y1="416.0" x2="313.6" y2="416.0" stroke="#1a1a1a" stroke-width="1.0"/>
<text x="306.9" y="418.2" font-size="6.0" fill="#1a1a1a" stroke="#1a1a1a" stroke-width="0.12" text-anchor="end">0</text>
<line x1="322.2" y1="421.8" x2="322.2" y2="424.4" stroke="#1a1a1a" stroke-width="1.0"/>
<text x="322.2" y="433.5" font-size="6.0" fill="#1a1a1a" stroke="#1a1a1a" stroke-width="0.12" text-anchor="middle">0</text>
<line x1="358.5" y1="421.8" x2="358.5" y2="424.4" stroke="#1a1a1a" stroke-width="1.0"/>
<text x="358.5" y="433.5" font-size="6.0" fill="#1a1a1a" stroke="#1a1a1a" stroke-width="0.12" text-anchor="middle">12</text>
<line x1="394.79999999999995" y1="421.8" x2="394.79999999999995" y2="424.4" stroke="#1a1a1a" stroke-width="1.0"/>
<text x="394.79999999999995" y="433.5" font-size="6.0" fill="#1a1a1a" stroke="#1a1a1a" stroke-width="0.12" text-anchor="middle">24</text>
<line x1="431.09999999999997" y1="421.8" x2="431.09999999999997" y2="424.4" stroke="#1a1a1a" stroke-width="1.0"/>
<text x="431.09999999999997" y="433.5" font-size="6.0" fill="#1a1a1a" stroke="#1a1a1a" stroke-width="0.12" text-anchor="middle">36</text>
<line x1="467.4" y1="421.8" x2="467.4" y2="424.4" stroke="#1a1a1a" stroke-width="1.0"/>
<text x="467.4" y="433.5" font-size="6.0" fill="#1a1a1a" stroke="#1a1a1a" stroke-width="0.12" text-anchor="middle">48</text>
<line x1="503.7" y1="421.8" x2="503.7" y2="424.4" stroke="#1a1a1a" stroke-width="1.0"/>
<text x="503.7" y="433.5" font-size="6.0" fill="#1a1a1a" stroke="#1a1a1a" stroke-width="0.12" text-anchor="middle">60</text>
<text x="412.6" y="445.6" font-size="9.2" fill="#1a1a1a" stroke="#1a1a1a" stroke-width="0.12" text-anchor="middle" textLength="17.8" lengthAdjust="spacingAndGlyphs">Time</text>
<text x="326.0" y="417.8" font-size="5.2" fill="#1a1a1a" stroke="#1a1a1a" stroke-width="0.12" textLength="26.5" lengthAdjust="spacingAndGlyphs">p = 0.00099</text>
<text x="313.4" y="456.2" font-size="6.6" fill="#1a1a1a" stroke="#1a1a1a" stroke-width="0.12" textLength="39.4" lengthAdjust="spacingAndGlyphs">Number at risk</text>
<line x1="313.9" y1="461.2" x2="313.9" y2="490.9" stroke="#1a1a1a" stroke-width="1.3"/>
<line x1="313.3" y1="490.3" x2="512.6" y2="490.3" stroke="#1a1a1a" stroke-width="1.3"/>
<line x1="310.6" y1="465.0" x2="313.9" y2="465.0" stroke="#1a1a1a" stroke-width="1.1"/>
<text x="307.2" y="467.3" font-size="6.3" fill="#46185f" stroke="#46185f" stroke-width="0.12" text-anchor="end" textLength="10.5" lengthAdjust="spacingAndGlyphs">&gt;0.8</text>
<text x="322.2" y="467.4" font-size="6.8" fill="#1a1a1a" stroke="#1a1a1a" stroke-width="0.12" text-anchor="middle" textLength="10.2" lengthAdjust="spacingAndGlyphs">340</text>
<text x="358.5" y="467.4" font-size="6.8" fill="#1a1a1a" stroke="#1a1a1a" stroke-width="0.12" text-anchor="middle" textLength="10.2" lengthAdjust="spacingAndGlyphs">247</text>
<text x="394.79999999999995" y="467.4" font-size="6.8" fill="#1a1a1a" stroke="#1a1a1a" stroke-width="0.12" text-anchor="middle" textLength="10.2" lengthAdjust="spacingAndGlyphs">157</text>
<text x="431.09999999999997" y="467.4" font-size="6.8" fill="#1a1a1a" stroke="#1a1a1a" stroke-width="0.12" text-anchor="middle" textLength="6.8" lengthAdjust="spacingAndGlyphs">96</text>
<text x="467.4" y="467.4" font-size="6.8" fill="#1a1a1a" stroke="#1a1a1a" stroke-width="0.12" text-anchor="middle" textLength="6.8" lengthAdjust="spacingAndGlyphs">35</text>
<text x="503.7" y="467.4" font-size="6.8" fill="#1a1a1a" stroke="#1a1a1a" stroke-width="0.12" text-anchor="middle" textLength="3.4" lengthAdjust="spacingAndGlyphs">0</text>
<line x1="310.6" y1="472.2" x2="313.9" y2="472.2" stroke="#1a1a1a" stroke-width="1.1"/>
<text x="307.2" y="474.5" font-size="6.3" fill="#c0123e" stroke="#c0123e" stroke-width="0.12" text-anchor="end" textLength="24.5" lengthAdjust="spacingAndGlyphs">0.70-0.79</text>
<text x="322.2" y="474.59999999999997" font-size="6.8" fill="#1a1a1a" stroke="#1a1a1a" stroke-width="0.12" text-anchor="middle" textLength="6.8" lengthAdjust="spacingAndGlyphs">15</text>
<text x="358.5" y="474.59999999999997" font-size="6.8" fill="#1a1a1a" stroke="#1a1a1a" stroke-width="0.12" text-anchor="middle" textLength="6.8" lengthAdjust="spacingAndGlyphs">11</text>
<text x="394.79999999999995" y="474.59999999999997" font-size="6.8" fill="#1a1a1a" stroke="#1a1a1a" stroke-width="0.12" text-anchor="middle" textLength="3.4" lengthAdjust="spacingAndGlyphs">6</text>
<text x="431.09999999999997" y="474.59999999999997" font-size="6.8" fill="#1a1a1a" stroke="#1a1a1a" stroke-width="0.12" text-anchor="middle" textLength="3.4" lengthAdjust="spacingAndGlyphs">3</text>
<text x="467.4" y="474.59999999999997" font-size="6.8" fill="#1a1a1a" stroke="#1a1a1a" stroke-width="0.12" text-anchor="middle" textLength="3.4" lengthAdjust="spacingAndGlyphs">1</text>
<text x="503.7" y="474.59999999999997" font-size="6.8" fill="#1a1a1a" stroke="#1a1a1a" stroke-width="0.12" text-anchor="middle" textLength="3.4" lengthAdjust="spacingAndGlyphs">0</text>
<line x1="310.6" y1="479.4" x2="313.9" y2="479.4" stroke="#1a1a1a" stroke-width="1.1"/>
<text x="307.2" y="481.7" font-size="6.3" fill="#2f5090" stroke="#2f5090" stroke-width="0.12" text-anchor="end" textLength="24.5" lengthAdjust="spacingAndGlyphs">0.55-0.69</text>
<text x="322.2" y="481.79999999999995" font-size="6.8" fill="#1a1a1a" stroke="#1a1a1a" stroke-width="0.12" text-anchor="middle" textLength="3.4" lengthAdjust="spacingAndGlyphs">9</text>
<text x="358.5" y="481.79999999999995" font-size="6.8" fill="#1a1a1a" stroke="#1a1a1a" stroke-width="0.12" text-anchor="middle" textLength="3.4" lengthAdjust="spacingAndGlyphs">6</text>
<text x="394.79999999999995" y="481.79999999999995" font-size="6.8" fill="#1a1a1a" stroke="#1a1a1a" stroke-width="0.12" text-anchor="middle" textLength="3.4" lengthAdjust="spacingAndGlyphs">3</text>
<text x="431.09999999999997" y="481.79999999999995" font-size="6.8" fill="#1a1a1a" stroke="#1a1a1a" stroke-width="0.12" text-anchor="middle" textLength="3.4" lengthAdjust="spacingAndGlyphs">2</text>
<text x="467.4" y="481.79999999999995" font-size="6.8" fill="#1a1a1a" stroke="#1a1a1a" stroke-width="0.12" text-anchor="middle" textLength="3.4" lengthAdjust="spacingAndGlyphs">0</text>
<text x="503.7" y="481.79999999999995" font-size="6.8" fill="#1a1a1a" stroke="#1a1a1a" stroke-width="0.12" text-anchor="middle" textLength="3.4" lengthAdjust="spacingAndGlyphs">0</text>
<line x1="310.6" y1="486.6" x2="313.9" y2="486.6" stroke="#1a1a1a" stroke-width="1.1"/>
<text x="307.2" y="488.90000000000003" font-size="6.3" fill="#62ae3c" stroke="#62ae3c" stroke-width="0.12" text-anchor="end" textLength="14.6" lengthAdjust="spacingAndGlyphs">&lt;0.55</text>
<text x="322.2" y="489.0" font-size="6.8" fill="#1a1a1a" stroke="#1a1a1a" stroke-width="0.12" text-anchor="middle" textLength="6.8" lengthAdjust="spacingAndGlyphs">15</text>
<text x="358.5" y="489.0" font-size="6.8" fill="#1a1a1a" stroke="#1a1a1a" stroke-width="0.12" text-anchor="middle" textLength="6.8" lengthAdjust="spacingAndGlyphs">11</text>
<text x="394.79999999999995" y="489.0" font-size="6.8" fill="#1a1a1a" stroke="#1a1a1a" stroke-width="0.12" text-anchor="middle" textLength="3.4" lengthAdjust="spacingAndGlyphs">6</text>
<text x="431.09999999999997" y="489.0" font-size="6.8" fill="#1a1a1a" stroke="#1a1a1a" stroke-width="0.12" text-anchor="middle" textLength="3.4" lengthAdjust="spacingAndGlyphs">2</text>
<text x="467.4" y="489.0" font-size="6.8" fill="#1a1a1a" stroke="#1a1a1a" stroke-width="0.12" text-anchor="middle" textLength="3.4" lengthAdjust="spacingAndGlyphs">0</text>
<text x="503.7" y="489.0" font-size="6.8" fill="#1a1a1a" stroke="#1a1a1a" stroke-width="0.12" text-anchor="middle" textLength="3.4" lengthAdjust="spacingAndGlyphs">0</text>
<line x1="322.2" y1="490.3" x2="322.2" y2="492.9" stroke="#1a1a1a" stroke-width="1.0"/>
<text x="322.2" y="502.3" font-size="6.0" fill="#1a1a1a" stroke="#1a1a1a" stroke-width="0.12" text-anchor="middle">0</text>
<line x1="358.5" y1="490.3" x2="358.5" y2="492.9" stroke="#1a1a1a" stroke-width="1.0"/>
<text x="358.5" y="502.3" font-size="6.0" fill="#1a1a1a" stroke="#1a1a1a" stroke-width="0.12" text-anchor="middle">12</text>
<line x1="394.79999999999995" y1="490.3" x2="394.79999999999995" y2="492.9" stroke="#1a1a1a" stroke-width="1.0"/>
<text x="394.79999999999995" y="502.3" font-size="6.0" fill="#1a1a1a" stroke="#1a1a1a" stroke-width="0.12" text-anchor="middle">24</text>
<line x1="431.09999999999997" y1="490.3" x2="431.09999999999997" y2="492.9" stroke="#1a1a1a" stroke-width="1.0"/>
<text x="431.09999999999997" y="502.3" font-size="6.0" fill="#1a1a1a" stroke="#1a1a1a" stroke-width="0.12" text-anchor="middle">36</text>
<line x1="467.4" y1="490.3" x2="467.4" y2="492.9" stroke="#1a1a1a" stroke-width="1.0"/>
<text x="467.4" y="502.3" font-size="6.0" fill="#1a1a1a" stroke="#1a1a1a" stroke-width="0.12" text-anchor="middle">48</text>
<line x1="503.7" y1="490.3" x2="503.7" y2="492.9" stroke="#1a1a1a" stroke-width="1.0"/>
<text x="503.7" y="502.3" font-size="6.0" fill="#1a1a1a" stroke="#1a1a1a" stroke-width="0.12" text-anchor="middle">60</text>
<text x="412.6" y="514.3" font-size="9.2" fill="#1a1a1a" stroke="#1a1a1a" stroke-width="0.12" text-anchor="middle" textLength="17.8" lengthAdjust="spacingAndGlyphs">Time</text>
<text transform="translate(274.6,475.2) rotate(-90)" font-size="8.6" text-anchor="middle" fill="#111" stroke="#111" stroke-width="0.3" textLength="63.5" lengthAdjust="spacingAndGlyphs">Del(TP53) cut-offs</text>
<text x="322.9" y="523.9" font-size="5.3" fill="#1a1a1a" stroke="#1a1a1a" stroke-width="0.12" textLength="40.8" lengthAdjust="spacingAndGlyphs">Del(TP53) Cut-offs</text>
<line x1="370.5" y1="522.0" x2="378.0" y2="522.0" stroke="#46185f" stroke-width="1.2"/>
<line x1="374.25" y1="520.2" x2="374.25" y2="523.8" stroke="#46185f" stroke-width="1.0"/>
<text x="381.2" y="523.9" font-size="5.3" fill="#1a1a1a" stroke="#1a1a1a" stroke-width="0.12" textLength="9.4" lengthAdjust="spacingAndGlyphs">&gt;0.8</text>
<line x1="401.2" y1="522.0" x2="408.7" y2="522.0" stroke="#c0123e" stroke-width="1.2"/>
<line x1="404.95" y1="520.2" x2="404.95" y2="523.8" stroke="#c0123e" stroke-width="1.0"/>
<text x="411.8" y="523.9" font-size="5.3" fill="#1a1a1a" stroke="#1a1a1a" stroke-width="0.12" textLength="21.0" lengthAdjust="spacingAndGlyphs">0.70-0.79</text>
<line x1="438.3" y1="522.0" x2="445.8" y2="522.0" stroke="#2f5090" stroke-width="1.2"/>
<line x1="442.05" y1="520.2" x2="442.05" y2="523.8" stroke="#2f5090" stroke-width="1.0"/>
<text x="448.8" y="523.9" font-size="5.3" fill="#1a1a1a" stroke="#1a1a1a" stroke-width="0.12" textLength="21.0" lengthAdjust="spacingAndGlyphs">0.55-0.69</text>
<line x1="477.8" y1="522.0" x2="485.3" y2="522.0" stroke="#62ae3c" stroke-width="1.2"/>
<line x1="481.55" y1="520.2" x2="481.55" y2="523.8" stroke="#62ae3c" stroke-width="1.0"/>
<text x="488.5" y="523.9" font-size="5.3" fill="#1a1a1a" stroke="#1a1a1a" stroke-width="0.12" textLength="12.8" lengthAdjust="spacingAndGlyphs">&lt;0.55</text>
<polyline points="61.8,25.0 63.8,25.0 63.8,27.8 65.7,27.8 65.7,30.6 67.3,30.6 67.3,31.9 68.9,31.9 68.9,33.1 70.5,33.1 70.5,34.4 72.7,34.4 72.7,37.5 74.8,37.5 74.8,40.7 76.6,40.7 76.6,42.8 78.3,42.8 78.3,44.9 80.1,44.9 80.1,47.0 82.0,47.0 82.0,49.9 84.0,49.9 84.0,52.7 85.9,52.7 85.9,56.5 87.8,56.5 87.8,60.4 89.3,60.4 89.3,63.1 90.8,63.1 90.8,65.8 92.5,65.8 92.5,68.7 94.2,68.7 94.2,71.5 96.0,71.5 96.0,74.4 97.7,74.4 97.7,77.3 99.5,77.3 99.5,80.8 101.2,80.8 101.2,84.2 103.5,84.2 103.5,91.2 105.4,91.2 105.4,93.1 107.3,93.1 107.3,95.1 109.2,95.1 109.2,97.0 113.8,97.0 116.2,97.0 116.2,99.2 118.5,99.2 118.5,101.5 120.4,101.5 120.4,102.7 122.3,102.7 122.3,103.8 124.2,103.8 124.2,105.0 126.0,105.0 126.0,105.8 127.7,105.8 127.7,106.5 129.5,106.5 129.5,107.3 131.2,107.3 131.2,108.1 138.1,108.1 138.8,111.9 140.6,111.9 140.6,113.8 141.2,120.0 150.0,120.6 150.6,123.1 155.6,123.1 156.2,128.8 171.9,128.8 172.5,136.6 183.0,136.6" fill="none" stroke="#62ae3c" stroke-width="1.1" stroke-linejoin="round"/>
<line x1="183.0" y1="135.0" x2="183.0" y2="138.2" stroke="#62ae3c" stroke-width="0.9"/>
<line x1="171.5" y1="127.2" x2="171.5" y2="130.3" stroke="#62ae3c" stroke-width="0.9"/>
<line x1="150.0" y1="119.0" x2="150.0" y2="122.2" stroke="#62ae3c" stroke-width="0.9"/>
<line x1="101.2" y1="86.4" x2="101.2" y2="89.6" stroke="#62ae3c" stroke-width="0.9"/>
<line x1="119.6" y1="99.4" x2="119.6" y2="102.6" stroke="#62ae3c" stroke-width="0.9"/>
<line x1="124.2" y1="102.9" x2="124.2" y2="106.1" stroke="#62ae3c" stroke-width="0.9"/>
<line x1="72.4" y1="35.4" x2="72.4" y2="38.6" stroke="#62ae3c" stroke-width="0.9"/>
<line x1="80.1" y1="45.9" x2="80.1" y2="49.1" stroke="#62ae3c" stroke-width="0.9"/>
<polyline points="61.8,26.7 64.5,26.7 64.5,31.0 66.0,31.0 66.0,33.5 67.6,33.5 67.6,36.0 69.0,36.0 69.0,38.2 70.5,38.2 70.5,40.4 72.4,40.4 72.4,48.0 75.0,48.0 75.0,55.0 77.0,55.0 77.0,60.0 78.5,60.0 78.5,61.2 80.0,61.2 80.0,62.5 81.5,62.5 81.5,65.2 83.0,65.2 83.0,68.0 84.8,68.0 84.8,71.5 86.7,71.5 86.7,75.0 88.5,75.0 88.5,78.5 90.8,78.5 90.8,80.8 93.0,80.8 93.0,83.0 95.3,83.0 95.3,88.2 97.7,88.2 97.7,93.5 99.5,93.5 99.5,95.8 101.2,95.8 101.2,98.0 102.9,98.0 102.9,99.8 104.6,99.8 104.6,101.5 107.0,101.5 107.0,107.3 109.2,107.3 109.2,110.8 111.1,110.8 111.1,111.9 113.1,111.9 113.1,113.1 115.0,113.1 115.0,114.2 116.9,114.2 116.9,115.0 118.9,115.0 118.9,115.8 120.8,115.8 120.8,116.6 140.0,116.6 140.6,120.0 143.8,120.6 143.8,123.1 178.9,123.1 178.9,133.4 185.4,133.4" fill="none" stroke="#2f5090" stroke-width="1.1" stroke-linejoin="round"/>
<line x1="185.4" y1="131.8" x2="185.4" y2="135.0" stroke="#2f5090" stroke-width="0.9"/>
<line x1="153.8" y1="121.5" x2="153.8" y2="124.7" stroke="#2f5090" stroke-width="0.9"/>
<line x1="166.2" y1="121.5" x2="166.2" y2="124.7" stroke="#2f5090" stroke-width="0.9"/>
<line x1="170.0" y1="121.5" x2="170.0" y2="124.7" stroke="#2f5090" stroke-width="0.9"/>
<line x1="143.3" y1="119.4" x2="143.3" y2="122.6" stroke="#2f5090" stroke-width="0.9"/>
<line x1="88.5" y1="77.4" x2="88.5" y2="80.6" stroke="#2f5090" stroke-width="0.9"/>
<line x1="100.6" y1="94.9" x2="100.6" y2="98.1" stroke="#2f5090" stroke-width="0.9"/>
<line x1="119.6" y1="114.4" x2="119.6" y2="117.6" stroke="#2f5090" stroke-width="0.9"/>
<line x1="80.1" y1="60.4" x2="80.1" y2="63.6" stroke="#2f5090" stroke-width="0.9"/>
<polyline points="61.8,26.7 63.9,26.7 63.9,29.1 66.0,29.1 66.0,31.5 68.6,31.5 68.6,34.4 70.5,34.4 70.5,35.5 72.4,35.5 72.4,36.5 73.6,36.5 73.6,44.0 74.4,52.7 79.0,53.5 80.5,53.5 80.5,58.0 81.5,58.0 81.5,61.5 83.8,61.5 83.8,64.6 88.5,65.2 90.8,65.2 90.8,71.5 93.1,71.5 93.1,76.2 95.4,76.2 95.4,80.8 100.0,81.3 101.8,81.3 101.8,83.9 103.5,83.9 103.5,86.5 105.2,86.5 105.2,90.5 107.0,90.5 107.0,94.6 108.0,94.6 108.0,99.2 109.8,99.2 109.8,99.8 111.5,99.8 111.5,100.4 113.8,100.4 113.8,101.6 116.2,101.6 116.2,102.7 117.9,102.7 117.9,103.3 119.6,103.3 119.6,103.8 121.3,103.8 121.3,104.4 123.0,104.4 123.0,105.0 124.9,105.0 124.9,106.0 126.8,106.0 126.8,107.1 128.8,107.1 128.8,108.1 130.6,108.1 130.6,109.0 132.5,109.0 132.5,110.0 134.2,110.0 134.2,111.0 135.8,111.0 135.8,112.1 137.5,112.1 137.5,113.1 147.5,113.8 148.8,113.8 148.8,116.9 151.9,117.5 153.1,117.5 153.1,120.0 198.0,120.0" fill="none" stroke="#c0123e" stroke-width="1.1" stroke-linejoin="round"/>
<line x1="157.0" y1="118.4" x2="157.0" y2="121.6" stroke="#c0123e" stroke-width="0.9"/>
<line x1="158.5" y1="118.4" x2="158.5" y2="121.6" stroke="#c0123e" stroke-width="0.9"/>
<line x1="164.0" y1="118.4" x2="164.0" y2="121.6" stroke="#c0123e" stroke-width="0.9"/>
<line x1="169.5" y1="118.4" x2="169.5" y2="121.6" stroke="#c0123e" stroke-width="0.9"/>
<line x1="186.0" y1="118.4" x2="186.0" y2="121.6" stroke="#c0123e" stroke-width="0.9"/>
<line x1="190.0" y1="118.4" x2="190.0" y2="121.6" stroke="#c0123e" stroke-width="0.9"/>
<line x1="193.0" y1="118.4" x2="193.0" y2="121.6" stroke="#c0123e" stroke-width="0.9"/>
<line x1="198.0" y1="118.4" x2="198.0" y2="121.6" stroke="#c0123e" stroke-width="0.9"/>
<line x1="88.5" y1="64.4" x2="88.5" y2="67.6" stroke="#c0123e" stroke-width="0.9"/>
<line x1="123.0" y1="103.7" x2="123.0" y2="106.9" stroke="#c0123e" stroke-width="0.9"/>
<line x1="126.5" y1="105.7" x2="126.5" y2="108.9" stroke="#c0123e" stroke-width="0.9"/>
<line x1="66.7" y1="28.9" x2="66.7" y2="32.1" stroke="#c0123e" stroke-width="0.9"/>
<line x1="72.4" y1="35.0" x2="72.4" y2="38.2" stroke="#c0123e" stroke-width="0.9"/>
<line x1="79.6" y1="52.0" x2="79.6" y2="55.2" stroke="#c0123e" stroke-width="0.9"/>
<polyline points="61.8,24.8 67.6,29.6 73.4,33.5 79.2,40.2 83.0,45.0 87.8,51.7 92.6,58.5 97.7,64.6 104.6,71.5 110.4,77.3 118.5,84.2 125.2,89.0 132.5,94.0 140.0,101.0 145.0,103.8 152.5,106.9 160.0,108.8 167.5,112.5 175.0,114.8 181.9,117.9 186.5,120.2 193.5,121.9 198.0,123.7 201.5,126.0 202.7,126.5" fill="none" stroke="#46185f" stroke-width="3.1" stroke-linejoin="round"/>
<polyline points="202.7,126.5 220.6,126.5" fill="none" stroke="#46185f" stroke-width="1.4" stroke-linejoin="round"/>
<line x1="205.6" y1="124.7" x2="205.6" y2="128.3" stroke="#46185f" stroke-width="1.0"/>
<line x1="207.3" y1="124.7" x2="207.3" y2="128.3" stroke="#46185f" stroke-width="1.0"/>
<line x1="208.5" y1="124.7" x2="208.5" y2="128.3" stroke="#46185f" stroke-width="1.0"/>
<line x1="212.0" y1="124.7" x2="212.0" y2="128.3" stroke="#46185f" stroke-width="1.0"/>
<line x1="214.2" y1="124.7" x2="214.2" y2="128.3" stroke="#46185f" stroke-width="1.0"/>
<line x1="218.8" y1="124.7" x2="218.8" y2="128.3" stroke="#46185f" stroke-width="1.0"/>
<line x1="220.6" y1="124.7" x2="220.6" y2="128.3" stroke="#46185f" stroke-width="1.0"/>
<polyline points="322.6,26.3 324.9,26.3 324.9,31.0 327.2,31.0 327.2,33.0 329.5,33.0 329.5,35.0 331.4,35.0 331.4,35.8 333.4,35.8 333.4,36.5 335.3,36.5 335.3,37.3 337.6,37.3 337.6,38.1 339.9,38.1 339.9,39.0 346.8,39.0 349.2,39.0 349.2,44.2 351.5,44.2 351.5,49.4 353.2,49.4 353.2,49.7 354.9,49.7 354.9,50.0 356.7,50.0 356.7,50.3 358.4,50.3 358.4,50.6 360.1,50.6 360.1,53.2 361.8,53.2 361.8,55.8 364.1,55.8 364.1,57.5 366.5,57.5 366.5,59.2 368.2,59.2 368.2,61.9 370.0,61.9 370.0,64.5 372.7,64.5 372.7,68.3 374.4,68.3 374.4,69.7 376.0,69.7 376.0,71.0 378.0,71.0 378.0,77.0 380.8,77.0 380.8,79.0 383.5,79.0 383.5,83.7 390.2,83.7 392.2,83.7 392.2,84.5 394.2,84.5 394.2,85.4 396.3,85.4 396.3,86.2 398.3,86.2 398.3,87.1 401.0,87.1 401.0,92.5 403.0,92.5 403.0,95.2 405.0,95.2 405.0,97.9 410.4,97.9 411.0,102.2 436.8,102.2 436.8,123.5 444.4,123.5" fill="none" stroke="#62ae3c" stroke-width="1.1" stroke-linejoin="round"/>
<line x1="444.4" y1="121.9" x2="444.4" y2="125.1" stroke="#62ae3c" stroke-width="0.9"/>
<line x1="432.0" y1="100.6" x2="432.0" y2="103.8" stroke="#62ae3c" stroke-width="0.9"/>
<line x1="420.0" y1="100.6" x2="420.0" y2="103.8" stroke="#62ae3c" stroke-width="0.9"/>
<line x1="406.0" y1="96.3" x2="406.0" y2="99.5" stroke="#62ae3c" stroke-width="0.9"/>
<polyline points="322.6,26.3 324.3,26.3 324.3,28.3 326.1,28.3 326.1,30.4 327.8,30.4 327.8,32.4 329.5,32.4 329.5,34.4 331.2,34.4 331.2,35.1 333.0,35.1 333.0,35.8 334.8,35.8 334.8,36.6 336.5,36.6 336.5,37.3 338.8,37.3 338.8,43.0 341.1,43.0 341.1,45.9 343.4,45.9 343.4,48.8 345.7,48.8 345.7,51.1 348.0,51.1 348.0,53.5 350.3,53.5 350.3,54.0 352.6,54.0 352.6,54.6 354.3,54.6 354.3,57.5 356.0,57.5 356.0,60.4 358.4,60.4 358.4,63.3 360.7,63.3 360.7,66.2 362.6,66.2 362.6,67.7 364.6,67.7 364.6,69.3 366.5,69.3 366.5,70.8 368.2,70.8 368.2,73.2 370.0,73.2 370.0,75.7 372.0,75.7 372.0,77.3 374.0,77.3 374.0,79.0 375.8,79.0 375.8,79.5 377.6,79.5 377.6,79.9 379.4,79.9 379.4,80.4 382.1,80.4 382.1,84.4 384.8,84.4 384.8,88.5 386.8,88.5 386.8,89.8 388.8,89.8 388.8,91.1 390.9,91.1 390.9,93.2 392.9,93.2 392.9,95.2 394.9,95.2 394.9,96.6 396.9,96.6 396.9,97.9 399.6,97.9 399.6,102.0 414.4,102.0 415.1,108.2 471.5,108.2 471.5,142.9" fill="none" stroke="#2f5090" stroke-width="1.1" stroke-linejoin="round"/>
<line x1="405.0" y1="100.4" x2="405.0" y2="103.6" stroke="#2f5090" stroke-width="0.9"/>
<line x1="410.0" y1="100.4" x2="410.0" y2="103.6" stroke="#2f5090" stroke-width="0.9"/>
<line x1="430.0" y1="106.6" x2="430.0" y2="109.8" stroke="#2f5090" stroke-width="0.9"/>
<line x1="442.0" y1="106.6" x2="442.0" y2="109.8" stroke="#2f5090" stroke-width="0.9"/>
<line x1="456.0" y1="106.6" x2="456.0" y2="109.8" stroke="#2f5090" stroke-width="0.9"/>
<polyline points="322.6,26.3 324.9,26.3 324.9,28.9 327.2,28.9 327.2,31.5 329.5,31.5 329.5,36.2 331.9,36.2 331.9,37.9 334.2,37.9 334.2,39.6 335.9,39.6 335.9,41.9 337.6,41.9 337.6,44.2 339.5,44.2 339.5,45.4 341.5,45.4 341.5,46.5 343.4,46.5 343.4,47.7 345.3,47.7 345.3,48.5 347.3,48.5 347.3,49.2 349.2,49.2 349.2,50.0 350.9,50.0 350.9,50.6 352.6,50.6 352.6,51.1 354.3,51.1 354.3,51.7 356.0,51.7 356.0,52.3 357.8,52.3 357.8,54.0 359.5,54.0 359.5,55.8 361.9,55.8 361.9,57.5 364.2,57.5 364.2,59.2 366.1,59.2 366.1,60.0 368.1,60.0 368.1,60.7 370.0,60.7 370.0,61.5 372.0,61.5 372.0,62.9 374.0,62.9 374.0,64.2 376.0,64.2 376.0,65.6 378.0,65.6 378.0,66.9 380.8,66.9 380.8,70.3 383.5,70.3 383.5,73.0 410.4,73.0 411.7,73.0 411.7,76.3 417.1,77.0 417.8,81.7 419.5,81.7 419.5,82.3 421.1,82.3 421.1,83.0 421.8,86.4 425.2,87.1 425.9,98.0 458.8,98.0" fill="none" stroke="#c0123e" stroke-width="1.1" stroke-linejoin="round"/>
<line x1="458.8" y1="96.4" x2="458.8" y2="99.6" stroke="#c0123e" stroke-width="0.9"/>
<line x1="455.0" y1="96.4" x2="455.0" y2="99.6" stroke="#c0123e" stroke-width="0.9"/>
<line x1="447.0" y1="96.4" x2="447.0" y2="99.6" stroke="#c0123e" stroke-width="0.9"/>
<line x1="432.0" y1="96.4" x2="432.0" y2="99.6" stroke="#c0123e" stroke-width="0.9"/>
<line x1="410.4" y1="71.4" x2="410.4" y2="74.6" stroke="#c0123e" stroke-width="0.9"/>
<line x1="405.0" y1="71.4" x2="405.0" y2="74.6" stroke="#c0123e" stroke-width="0.9"/>
<line x1="395.0" y1="71.4" x2="395.0" y2="74.6" stroke="#c0123e" stroke-width="0.9"/>
<polyline points="322.6,25.2 328.4,29.8 341.1,33.3 352.6,37.3 364.2,41.3 370.0,43.4 378.0,46.0 383.5,48.7 396.9,53.5 407.7,60.2 418.5,64.2 429.2,68.3 436.8,71.8 443.5,74.4 450.3,79.5 457.1,82.0 462.1,85.4 465.5,88.8" fill="none" stroke="#46185f" stroke-width="2.9" stroke-linejoin="round"/>
<polyline points="465.5,88.8 467.2,92.1 467.6,100.6 468.9,104.8 474.8,104.8 474.8,117.5 479.9,117.5" fill="none" stroke="#46185f" stroke-width="1.4" stroke-linejoin="round"/>
<line x1="467.6" y1="93.2" x2="467.6" y2="96.8" stroke="#46185f" stroke-width="1.0"/>
<line x1="467.9" y1="98.7" x2="467.9" y2="102.3" stroke="#46185f" stroke-width="1.0"/>
<line x1="470.5" y1="103.0" x2="470.5" y2="106.6" stroke="#46185f" stroke-width="1.0"/>
<line x1="473.0" y1="103.0" x2="473.0" y2="106.6" stroke="#46185f" stroke-width="1.0"/>
<line x1="479.9" y1="115.7" x2="479.9" y2="119.3" stroke="#46185f" stroke-width="1.0"/>
<polyline points="60.7,297.0 78.2,297.0 78.2,306.8 97.7,306.8 97.7,311.5 101.1,311.5 101.1,316.9 108.5,316.9 108.5,321.6 113.2,321.6 113.2,327.0 131.4,327.0 131.4,333.1 142.2,333.1 142.2,339.1 153.0,339.1 153.0,347.9 198.3,347.9 198.3,415.2" fill="none" stroke="#62ae3c" stroke-width="1.25" stroke-linejoin="round"/>
<line x1="188.0" y1="346.3" x2="188.0" y2="349.5" stroke="#62ae3c" stroke-width="0.9"/>
<line x1="189.5" y1="346.3" x2="189.5" y2="349.5" stroke="#62ae3c" stroke-width="0.9"/>
<line x1="176.5" y1="346.3" x2="176.5" y2="349.5" stroke="#62ae3c" stroke-width="0.9"/>
<line x1="165.8" y1="346.3" x2="165.8" y2="349.5" stroke="#62ae3c" stroke-width="0.9"/>
<line x1="161.7" y1="346.3" x2="161.7" y2="349.5" stroke="#62ae3c" stroke-width="0.9"/>
<line x1="149.6" y1="337.5" x2="149.6" y2="340.7" stroke="#62ae3c" stroke-width="0.9"/>
<line x1="152.3" y1="337.5" x2="152.3" y2="340.7" stroke="#62ae3c" stroke-width="0.9"/>
<line x1="132.8" y1="331.5" x2="132.8" y2="334.7" stroke="#62ae3c" stroke-width="0.9"/>
<line x1="100.0" y1="309.9" x2="100.0" y2="313.1" stroke="#62ae3c" stroke-width="0.9"/>
<line x1="114.0" y1="325.4" x2="114.0" y2="328.6" stroke="#62ae3c" stroke-width="0.9"/>
<line x1="62.0" y1="295.4" x2="62.0" y2="298.6" stroke="#62ae3c" stroke-width="0.9"/>
<polyline points="60.7,297.0 82.2,297.0 82.2,300.8 84.2,300.8 84.2,304.1 101.1,304.1 101.1,320.3 107.8,320.3 107.8,329.0 119.9,329.0 119.9,337.1 123.9,337.1 123.9,346.0 134.7,346.0 134.7,355.8 137.7,355.8 137.7,366.3 145.3,366.3 145.3,375.8 244.3,375.8 244.3,415.2" fill="none" stroke="#2f5090" stroke-width="1.25" stroke-linejoin="round"/>
<line x1="130.1" y1="344.4" x2="130.1" y2="347.6" stroke="#2f5090" stroke-width="0.9"/>
<line x1="168.0" y1="374.2" x2="168.0" y2="377.4" stroke="#2f5090" stroke-width="0.9"/>
<line x1="190.3" y1="374.2" x2="190.3" y2="377.4" stroke="#2f5090" stroke-width="0.9"/>
<line x1="180.0" y1="374.2" x2="180.0" y2="377.4" stroke="#2f5090" stroke-width="0.9"/>
<line x1="105.0" y1="318.7" x2="105.0" y2="321.9" stroke="#2f5090" stroke-width="0.9"/>
<line x1="72.0" y1="295.4" x2="72.0" y2="298.6" stroke="#2f5090" stroke-width="0.9"/>
<polyline points="60.7,297.0 78.2,297.0 78.2,303.5 93.7,303.5 93.7,316.9 144.9,316.9 144.9,327.7 157.0,327.7 157.0,340.6 170.4,340.6 170.4,355.2 175.3,355.2 175.3,375.6 219.1,375.6" fill="none" stroke="#c0123e" stroke-width="1.25" stroke-linejoin="round"/>
<line x1="219.1" y1="374.0" x2="219.1" y2="377.2" stroke="#c0123e" stroke-width="0.9"/>
<line x1="211.6" y1="374.0" x2="211.6" y2="377.2" stroke="#c0123e" stroke-width="0.9"/>
<line x1="137.5" y1="315.3" x2="137.5" y2="318.5" stroke="#c0123e" stroke-width="0.9"/>
<line x1="140.0" y1="315.3" x2="140.0" y2="318.5" stroke="#c0123e" stroke-width="0.9"/>
<line x1="146.9" y1="326.1" x2="146.9" y2="329.3" stroke="#c0123e" stroke-width="0.9"/>
<line x1="167.1" y1="339.0" x2="167.1" y2="342.2" stroke="#c0123e" stroke-width="0.9"/>
<line x1="172.5" y1="353.6" x2="172.5" y2="356.8" stroke="#c0123e" stroke-width="0.9"/>
<line x1="80.0" y1="301.9" x2="80.0" y2="305.1" stroke="#c0123e" stroke-width="0.9"/>
<line x1="99.0" y1="315.3" x2="99.0" y2="318.5" stroke="#c0123e" stroke-width="0.9"/>
<line x1="103.0" y1="315.3" x2="103.0" y2="318.5" stroke="#c0123e" stroke-width="0.9"/>
<polyline points="60.7,296.9 71.5,298.7 84.9,299.4 98.4,300.1 111.8,302.1 120.0,303.5 133.5,304.8 146.9,306.8 152.3,309.5 160.4,311.5 173.8,316.2 180.0,317.0 184.9,318.1 199.6,318.1 203.2,321.3 209.3,324.5 214.2,327.1 231.3,327.1" fill="none" stroke="#46185f" stroke-width="2.7" stroke-linejoin="round"/>
<polyline points="231.3,327.1 231.3,338.4 235.7,338.4 235.7,354.1 249.7,354.1" fill="none" stroke="#46185f" stroke-width="1.4" stroke-linejoin="round"/>
<line x1="63.3" y1="295.7" x2="63.3" y2="298.9" stroke="#46185f" stroke-width="1.0"/>
<line x1="65.8" y1="296.2" x2="65.8" y2="299.4" stroke="#46185f" stroke-width="1.0"/>
<line x1="68.4" y1="296.6" x2="68.4" y2="299.8" stroke="#46185f" stroke-width="1.0"/>
<line x1="71.0" y1="297.0" x2="71.0" y2="300.2" stroke="#46185f" stroke-width="1.0"/>
<line x1="73.5" y1="297.2" x2="73.5" y2="300.4" stroke="#46185f" stroke-width="1.0"/>
<line x1="76.1" y1="297.3" x2="76.1" y2="300.5" stroke="#46185f" stroke-width="1.0"/>
<line x1="78.7" y1="297.5" x2="78.7" y2="300.7" stroke="#46185f" stroke-width="1.0"/>
<line x1="81.3" y1="297.6" x2="81.3" y2="300.8" stroke="#46185f" stroke-width="1.0"/>
<line x1="83.9" y1="297.7" x2="83.9" y2="300.9" stroke="#46185f" stroke-width="1.0"/>
<line x1="86.5" y1="297.9" x2="86.5" y2="301.1" stroke="#46185f" stroke-width="1.0"/>
<line x1="89.1" y1="298.0" x2="89.1" y2="301.2" stroke="#46185f" stroke-width="1.0"/>
<line x1="91.7" y1="298.2" x2="91.7" y2="301.4" stroke="#46185f" stroke-width="1.0"/>
<line x1="94.3" y1="298.3" x2="94.3" y2="301.5" stroke="#46185f" stroke-width="1.0"/>
<line x1="96.9" y1="298.4" x2="96.9" y2="301.6" stroke="#46185f" stroke-width="1.0"/>
<line x1="99.5" y1="298.7" x2="99.5" y2="301.9" stroke="#46185f" stroke-width="1.0"/>
<line x1="102.1" y1="299.0" x2="102.1" y2="302.2" stroke="#46185f" stroke-width="1.0"/>
<line x1="104.6" y1="299.4" x2="104.6" y2="302.6" stroke="#46185f" stroke-width="1.0"/>
<line x1="107.2" y1="299.8" x2="107.2" y2="303.0" stroke="#46185f" stroke-width="1.0"/>
<line x1="109.8" y1="300.2" x2="109.8" y2="303.4" stroke="#46185f" stroke-width="1.0"/>
<line x1="112.4" y1="300.6" x2="112.4" y2="303.8" stroke="#46185f" stroke-width="1.0"/>
<line x1="114.9" y1="301.0" x2="114.9" y2="304.2" stroke="#46185f" stroke-width="1.0"/>
<line x1="117.5" y1="301.5" x2="117.5" y2="304.7" stroke="#46185f" stroke-width="1.0"/>
<line x1="120.0" y1="301.9" x2="120.0" y2="305.1" stroke="#46185f" stroke-width="1.0"/>
<line x1="122.6" y1="302.2" x2="122.6" y2="305.4" stroke="#46185f" stroke-width="1.0"/>
<line x1="125.2" y1="302.4" x2="125.2" y2="305.6" stroke="#46185f" stroke-width="1.0"/>
<line x1="127.8" y1="302.7" x2="127.8" y2="305.9" stroke="#46185f" stroke-width="1.0"/>
<line x1="130.4" y1="302.9" x2="130.4" y2="306.1" stroke="#46185f" stroke-width="1.0"/>
<line x1="133.0" y1="303.2" x2="133.0" y2="306.4" stroke="#46185f" stroke-width="1.0"/>
<line x1="135.6" y1="303.5" x2="135.6" y2="306.7" stroke="#46185f" stroke-width="1.0"/>
<line x1="138.1" y1="303.9" x2="138.1" y2="307.1" stroke="#46185f" stroke-width="1.0"/>
<line x1="140.7" y1="304.3" x2="140.7" y2="307.5" stroke="#46185f" stroke-width="1.0"/>
<line x1="143.3" y1="304.7" x2="143.3" y2="307.9" stroke="#46185f" stroke-width="1.0"/>
<line x1="145.8" y1="305.0" x2="145.8" y2="308.2" stroke="#46185f" stroke-width="1.0"/>
<line x1="148.3" y1="305.9" x2="148.3" y2="309.1" stroke="#46185f" stroke-width="1.0"/>
<line x1="150.6" y1="307.0" x2="150.6" y2="310.2" stroke="#46185f" stroke-width="1.0"/>
<line x1="153.0" y1="308.1" x2="153.0" y2="311.3" stroke="#46185f" stroke-width="1.0"/>
<line x1="155.5" y1="308.7" x2="155.5" y2="311.9" stroke="#46185f" stroke-width="1.0"/>
<line x1="158.0" y1="309.3" x2="158.0" y2="312.5" stroke="#46185f" stroke-width="1.0"/>
<line x1="160.5" y1="310.0" x2="160.5" y2="313.2" stroke="#46185f" stroke-width="1.0"/>
<line x1="163.0" y1="310.8" x2="163.0" y2="314.0" stroke="#46185f" stroke-width="1.0"/>
<line x1="165.5" y1="311.7" x2="165.5" y2="314.9" stroke="#46185f" stroke-width="1.0"/>
<line x1="167.9" y1="312.5" x2="167.9" y2="315.7" stroke="#46185f" stroke-width="1.0"/>
<line x1="170.4" y1="313.4" x2="170.4" y2="316.6" stroke="#46185f" stroke-width="1.0"/>
<line x1="172.8" y1="314.3" x2="172.8" y2="317.5" stroke="#46185f" stroke-width="1.0"/>
<line x1="175.3" y1="314.8" x2="175.3" y2="318.0" stroke="#46185f" stroke-width="1.0"/>
<line x1="177.9" y1="315.1" x2="177.9" y2="318.3" stroke="#46185f" stroke-width="1.0"/>
<line x1="180.5" y1="315.5" x2="180.5" y2="318.7" stroke="#46185f" stroke-width="1.0"/>
<line x1="183.0" y1="316.1" x2="183.0" y2="319.3" stroke="#46185f" stroke-width="1.0"/>
<line x1="185.6" y1="316.5" x2="185.6" y2="319.7" stroke="#46185f" stroke-width="1.0"/>
<line x1="188.2" y1="316.5" x2="188.2" y2="319.7" stroke="#46185f" stroke-width="1.0"/>
<line x1="190.8" y1="316.5" x2="190.8" y2="319.7" stroke="#46185f" stroke-width="1.0"/>
<line x1="193.4" y1="316.5" x2="193.4" y2="319.7" stroke="#46185f" stroke-width="1.0"/>
<line x1="196.0" y1="316.5" x2="196.0" y2="319.7" stroke="#46185f" stroke-width="1.0"/>
<line x1="198.6" y1="316.5" x2="198.6" y2="319.7" stroke="#46185f" stroke-width="1.0"/>
<line x1="200.8" y1="317.6" x2="200.8" y2="320.8" stroke="#46185f" stroke-width="1.0"/>
<line x1="202.7" y1="319.3" x2="202.7" y2="322.5" stroke="#46185f" stroke-width="1.0"/>
<line x1="204.9" y1="320.6" x2="204.9" y2="323.8" stroke="#46185f" stroke-width="1.0"/>
<line x1="207.2" y1="321.8" x2="207.2" y2="325.0" stroke="#46185f" stroke-width="1.0"/>
<line x1="209.5" y1="323.0" x2="209.5" y2="326.2" stroke="#46185f" stroke-width="1.0"/>
<line x1="211.8" y1="324.2" x2="211.8" y2="327.4" stroke="#46185f" stroke-width="1.0"/>
<line x1="214.1" y1="325.5" x2="214.1" y2="328.7" stroke="#46185f" stroke-width="1.0"/>
<line x1="216.7" y1="325.5" x2="216.7" y2="328.7" stroke="#46185f" stroke-width="1.0"/>
<line x1="219.3" y1="325.5" x2="219.3" y2="328.7" stroke="#46185f" stroke-width="1.0"/>
<line x1="221.9" y1="325.5" x2="221.9" y2="328.7" stroke="#46185f" stroke-width="1.0"/>
<line x1="224.5" y1="325.5" x2="224.5" y2="328.7" stroke="#46185f" stroke-width="1.0"/>
<line x1="227.1" y1="325.5" x2="227.1" y2="328.7" stroke="#46185f" stroke-width="1.0"/>
<line x1="229.7" y1="325.5" x2="229.7" y2="328.7" stroke="#46185f" stroke-width="1.0"/>
<line x1="231.3" y1="331.4" x2="231.3" y2="334.6" stroke="#46185f" stroke-width="1.0"/>
<line x1="230.5" y1="336.8" x2="230.5" y2="340.0" stroke="#46185f" stroke-width="1.0"/>
<line x1="234.5" y1="336.8" x2="234.5" y2="340.0" stroke="#46185f" stroke-width="1.0"/>
<line x1="237.5" y1="352.5" x2="237.5" y2="355.7" stroke="#46185f" stroke-width="1.0"/>
<line x1="241.0" y1="352.5" x2="241.0" y2="355.7" stroke="#46185f" stroke-width="1.0"/>
<line x1="249.7" y1="352.5" x2="249.7" y2="355.7" stroke="#46185f" stroke-width="1.0"/>
<polyline points="320.7,296.8 346.3,296.8 346.3,305.5 351.4,305.5 351.4,314.2 361.1,314.2 361.1,323.6 373.2,323.6 373.2,334.2 400.8,334.2 400.8,348.2 450.0,348.2 450.0,415.6" fill="none" stroke="#62ae3c" stroke-width="1.25" stroke-linejoin="round"/>
<line x1="447.0" y1="346.6" x2="447.0" y2="349.8" stroke="#62ae3c" stroke-width="0.9"/>
<line x1="436.0" y1="346.6" x2="436.0" y2="349.8" stroke="#62ae3c" stroke-width="0.9"/>
<line x1="415.0" y1="346.6" x2="415.0" y2="349.8" stroke="#62ae3c" stroke-width="0.9"/>
<line x1="393.0" y1="332.6" x2="393.0" y2="335.8" stroke="#62ae3c" stroke-width="0.9"/>
<line x1="375.9" y1="332.6" x2="375.9" y2="335.8" stroke="#62ae3c" stroke-width="0.9"/>
<line x1="382.6" y1="332.6" x2="382.6" y2="335.8" stroke="#62ae3c" stroke-width="0.9"/>
<line x1="366.5" y1="322.0" x2="366.5" y2="325.2" stroke="#62ae3c" stroke-width="0.9"/>
<line x1="339.5" y1="295.2" x2="339.5" y2="298.4" stroke="#62ae3c" stroke-width="0.9"/>
<polyline points="320.7,296.8 380.6,296.8 380.6,321.0 385.6,321.0 385.6,344.6 449.0,344.6" fill="none" stroke="#2f5090" stroke-width="1.25" stroke-linejoin="round"/>
<line x1="449.0" y1="343.0" x2="449.0" y2="346.2" stroke="#2f5090" stroke-width="0.9"/>
<line x1="440.0" y1="343.0" x2="440.0" y2="346.2" stroke="#2f5090" stroke-width="0.9"/>
<line x1="404.0" y1="343.0" x2="404.0" y2="346.2" stroke="#2f5090" stroke-width="0.9"/>
<line x1="347.6" y1="295.2" x2="347.6" y2="298.4" stroke="#2f5090" stroke-width="0.9"/>
<line x1="377.2" y1="295.2" x2="377.2" y2="298.4" stroke="#2f5090" stroke-width="0.9"/>
<line x1="326.0" y1="295.2" x2="326.0" y2="298.4" stroke="#2f5090" stroke-width="0.9"/>
<polyline points="320.7,296.8 343.5,296.8 344.2,314.0 371.8,314.0 371.8,332.0 421.2,332.0 421.2,360.5 479.7,360.5" fill="none" stroke="#c0123e" stroke-width="1.25" stroke-linejoin="round"/>
<line x1="479.7" y1="358.9" x2="479.7" y2="362.1" stroke="#c0123e" stroke-width="0.9"/>
<line x1="461.0" y1="358.9" x2="461.0" y2="362.1" stroke="#c0123e" stroke-width="0.9"/>
<line x1="445.0" y1="358.9" x2="445.0" y2="362.1" stroke="#c0123e" stroke-width="0.9"/>
<line x1="426.0" y1="358.9" x2="426.0" y2="362.1" stroke="#c0123e" stroke-width="0.9"/>
<line x1="387.3" y1="330.4" x2="387.3" y2="333.6" stroke="#c0123e" stroke-width="0.9"/>
<line x1="378.6" y1="330.4" x2="378.6" y2="333.6" stroke="#c0123e" stroke-width="0.9"/>
<line x1="353.7" y1="312.4" x2="353.7" y2="315.6" stroke="#c0123e" stroke-width="0.9"/>
<line x1="342.9" y1="301.9" x2="342.9" y2="305.1" stroke="#c0123e" stroke-width="0.9"/>
<polyline points="321.4,297.0 331.5,297.7 339.5,298.7 347.6,300.1 355.7,302.8 362.4,304.8 371.8,306.8 379.9,308.8 388.0,309.2 400.0,309.2 404.6,311.5 410.8,314.6 418.5,316.9 433.8,318.0 444.6,319.2 449.2,320.0 458.5,320.8 463.1,325.4 467.7,331.5 470.8,336.2 473.1,342.3 476.9,346.9 503.8,346.9" fill="none" stroke="#46185f" stroke-width="1.6" stroke-linejoin="round"/>
<line x1="323.6" y1="295.5" x2="323.6" y2="298.9" stroke="#46185f" stroke-width="1.0"/>
<line x1="325.8" y1="295.6" x2="325.8" y2="299.0" stroke="#46185f" stroke-width="1.0"/>
<line x1="328.0" y1="295.8" x2="328.0" y2="299.2" stroke="#46185f" stroke-width="1.0"/>
<line x1="330.2" y1="295.9" x2="330.2" y2="299.3" stroke="#46185f" stroke-width="1.0"/>
<line x1="332.4" y1="296.1" x2="332.4" y2="299.5" stroke="#46185f" stroke-width="1.0"/>
<line x1="334.6" y1="296.4" x2="334.6" y2="299.8" stroke="#46185f" stroke-width="1.0"/>
<line x1="336.7" y1="296.7" x2="336.7" y2="300.1" stroke="#46185f" stroke-width="1.0"/>
<line x1="338.9" y1="296.9" x2="338.9" y2="300.3" stroke="#46185f" stroke-width="1.0"/>
<line x1="341.1" y1="297.3" x2="341.1" y2="300.7" stroke="#46185f" stroke-width="1.0"/>
<line x1="343.3" y1="297.6" x2="343.3" y2="301.0" stroke="#46185f" stroke-width="1.0"/>
<line x1="345.4" y1="298.0" x2="345.4" y2="301.4" stroke="#46185f" stroke-width="1.0"/>
<line x1="347.6" y1="298.4" x2="347.6" y2="301.8" stroke="#46185f" stroke-width="1.0"/>
<line x1="349.7" y1="299.1" x2="349.7" y2="302.5" stroke="#46185f" stroke-width="1.0"/>
<line x1="351.8" y1="299.8" x2="351.8" y2="303.2" stroke="#46185f" stroke-width="1.0"/>
<line x1="353.9" y1="300.5" x2="353.9" y2="303.9" stroke="#46185f" stroke-width="1.0"/>
<line x1="355.9" y1="301.2" x2="355.9" y2="304.6" stroke="#46185f" stroke-width="1.0"/>
<line x1="358.1" y1="301.8" x2="358.1" y2="305.2" stroke="#46185f" stroke-width="1.0"/>
<line x1="360.2" y1="302.4" x2="360.2" y2="305.8" stroke="#46185f" stroke-width="1.0"/>
<line x1="362.3" y1="303.1" x2="362.3" y2="306.5" stroke="#46185f" stroke-width="1.0"/>
<line x1="364.4" y1="303.5" x2="364.4" y2="306.9" stroke="#46185f" stroke-width="1.0"/>
<line x1="366.6" y1="304.0" x2="366.6" y2="307.4" stroke="#46185f" stroke-width="1.0"/>
<line x1="368.7" y1="304.4" x2="368.7" y2="307.8" stroke="#46185f" stroke-width="1.0"/>
<line x1="370.9" y1="304.9" x2="370.9" y2="308.3" stroke="#46185f" stroke-width="1.0"/>
<line x1="373.0" y1="305.4" x2="373.0" y2="308.8" stroke="#46185f" stroke-width="1.0"/>
<line x1="375.2" y1="305.9" x2="375.2" y2="309.3" stroke="#46185f" stroke-width="1.0"/>
<line x1="377.3" y1="306.5" x2="377.3" y2="309.9" stroke="#46185f" stroke-width="1.0"/>
<line x1="379.4" y1="307.0" x2="379.4" y2="310.4" stroke="#46185f" stroke-width="1.0"/>
<line x1="381.6" y1="307.2" x2="381.6" y2="310.6" stroke="#46185f" stroke-width="1.0"/>
<line x1="383.8" y1="307.3" x2="383.8" y2="310.7" stroke="#46185f" stroke-width="1.0"/>
<line x1="386.0" y1="307.4" x2="386.0" y2="310.8" stroke="#46185f" stroke-width="1.0"/>
<line x1="388.2" y1="307.5" x2="388.2" y2="310.9" stroke="#46185f" stroke-width="1.0"/>
<line x1="390.4" y1="307.5" x2="390.4" y2="310.9" stroke="#46185f" stroke-width="1.0"/>
<line x1="392.6" y1="307.5" x2="392.6" y2="310.9" stroke="#46185f" stroke-width="1.0"/>
<line x1="394.8" y1="307.5" x2="394.8" y2="310.9" stroke="#46185f" stroke-width="1.0"/>
<line x1="397.0" y1="307.5" x2="397.0" y2="310.9" stroke="#46185f" stroke-width="1.0"/>
<line x1="399.2" y1="307.5" x2="399.2" y2="310.9" stroke="#46185f" stroke-width="1.0"/>
<line x1="401.3" y1="308.1" x2="401.3" y2="311.5" stroke="#46185f" stroke-width="1.0"/>
<line x1="403.2" y1="309.1" x2="403.2" y2="312.5" stroke="#46185f" stroke-width="1.0"/>
<line x1="405.2" y1="310.1" x2="405.2" y2="313.5" stroke="#46185f" stroke-width="1.0"/>
<line x1="407.2" y1="311.1" x2="407.2" y2="314.5" stroke="#46185f" stroke-width="1.0"/>
<line x1="409.1" y1="312.1" x2="409.1" y2="315.5" stroke="#46185f" stroke-width="1.0"/>
<line x1="411.1" y1="313.0" x2="411.1" y2="316.4" stroke="#46185f" stroke-width="1.0"/>
<line x1="413.2" y1="313.6" x2="413.2" y2="317.0" stroke="#46185f" stroke-width="1.0"/>
<line x1="415.3" y1="314.3" x2="415.3" y2="317.7" stroke="#46185f" stroke-width="1.0"/>
<line x1="417.4" y1="314.9" x2="417.4" y2="318.3" stroke="#46185f" stroke-width="1.0"/>
<line x1="419.6" y1="315.3" x2="419.6" y2="318.7" stroke="#46185f" stroke-width="1.0"/>
<line x1="421.8" y1="315.4" x2="421.8" y2="318.8" stroke="#46185f" stroke-width="1.0"/>
<line x1="424.0" y1="315.6" x2="424.0" y2="319.0" stroke="#46185f" stroke-width="1.0"/>
<line x1="426.2" y1="315.8" x2="426.2" y2="319.2" stroke="#46185f" stroke-width="1.0"/>
<line x1="428.4" y1="315.9" x2="428.4" y2="319.3" stroke="#46185f" stroke-width="1.0"/>
<line x1="430.6" y1="316.1" x2="430.6" y2="319.5" stroke="#46185f" stroke-width="1.0"/>
<line x1="432.8" y1="316.2" x2="432.8" y2="319.6" stroke="#46185f" stroke-width="1.0"/>
<line x1="434.9" y1="316.4" x2="434.9" y2="319.8" stroke="#46185f" stroke-width="1.0"/>
<line x1="437.1" y1="316.7" x2="437.1" y2="320.1" stroke="#46185f" stroke-width="1.0"/>
<line x1="439.3" y1="316.9" x2="439.3" y2="320.3" stroke="#46185f" stroke-width="1.0"/>
<line x1="441.5" y1="317.2" x2="441.5" y2="320.6" stroke="#46185f" stroke-width="1.0"/>
<line x1="443.7" y1="317.4" x2="443.7" y2="320.8" stroke="#46185f" stroke-width="1.0"/>
<line x1="445.9" y1="317.7" x2="445.9" y2="321.1" stroke="#46185f" stroke-width="1.0"/>
<line x1="448.0" y1="318.1" x2="448.0" y2="321.5" stroke="#46185f" stroke-width="1.0"/>
<line x1="450.2" y1="318.4" x2="450.2" y2="321.8" stroke="#46185f" stroke-width="1.0"/>
<line x1="452.4" y1="318.6" x2="452.4" y2="322.0" stroke="#46185f" stroke-width="1.0"/>
<line x1="454.6" y1="318.8" x2="454.6" y2="322.2" stroke="#46185f" stroke-width="1.0"/>
<line x1="456.8" y1="319.0" x2="456.8" y2="322.4" stroke="#46185f" stroke-width="1.0"/>
<line x1="458.8" y1="319.4" x2="458.8" y2="322.8" stroke="#46185f" stroke-width="1.0"/>
<line x1="460.4" y1="321.0" x2="460.4" y2="324.4" stroke="#46185f" stroke-width="1.0"/>
<line x1="462.0" y1="322.6" x2="462.0" y2="326.0" stroke="#46185f" stroke-width="1.0"/>
<line x1="463.4" y1="324.2" x2="463.4" y2="327.6" stroke="#46185f" stroke-width="1.0"/>
<line x1="464.8" y1="325.9" x2="464.8" y2="329.3" stroke="#46185f" stroke-width="1.0"/>
<line x1="466.1" y1="327.7" x2="466.1" y2="331.1" stroke="#46185f" stroke-width="1.0"/>
<line x1="467.4" y1="329.4" x2="467.4" y2="332.8" stroke="#46185f" stroke-width="1.0"/>
<line x1="468.7" y1="331.2" x2="468.7" y2="334.6" stroke="#46185f" stroke-width="1.0"/>
<line x1="469.9" y1="333.1" x2="469.9" y2="336.5" stroke="#46185f" stroke-width="1.0"/>
<line x1="471.0" y1="335.0" x2="471.0" y2="338.4" stroke="#46185f" stroke-width="1.0"/>
<line x1="471.8" y1="337.0" x2="471.8" y2="340.4" stroke="#46185f" stroke-width="1.0"/>
<line x1="472.5" y1="339.1" x2="472.5" y2="342.5" stroke="#46185f" stroke-width="1.0"/>
<line x1="473.5" y1="341.1" x2="473.5" y2="344.5" stroke="#46185f" stroke-width="1.0"/>
<line x1="474.9" y1="342.7" x2="474.9" y2="346.1" stroke="#46185f" stroke-width="1.0"/>
<line x1="476.3" y1="344.4" x2="476.3" y2="347.8" stroke="#46185f" stroke-width="1.0"/>
<line x1="478.1" y1="345.2" x2="478.1" y2="348.6" stroke="#46185f" stroke-width="1.0"/>
<line x1="480.3" y1="345.2" x2="480.3" y2="348.6" stroke="#46185f" stroke-width="1.0"/>
<line x1="482.5" y1="345.2" x2="482.5" y2="348.6" stroke="#46185f" stroke-width="1.0"/>
<line x1="484.7" y1="345.2" x2="484.7" y2="348.6" stroke="#46185f" stroke-width="1.0"/>
<line x1="486.9" y1="345.2" x2="486.9" y2="348.6" stroke="#46185f" stroke-width="1.0"/>
<line x1="489.1" y1="345.2" x2="489.1" y2="348.6" stroke="#46185f" stroke-width="1.0"/>
<line x1="491.3" y1="345.2" x2="491.3" y2="348.6" stroke="#46185f" stroke-width="1.0"/>
<line x1="493.5" y1="345.2" x2="493.5" y2="348.6" stroke="#46185f" stroke-width="1.0"/>
<line x1="495.7" y1="345.2" x2="495.7" y2="348.6" stroke="#46185f" stroke-width="1.0"/>
<line x1="497.9" y1="345.2" x2="497.9" y2="348.6" stroke="#46185f" stroke-width="1.0"/>
<line x1="500.1" y1="345.2" x2="500.1" y2="348.6" stroke="#46185f" stroke-width="1.0"/>
<line x1="502.3" y1="345.2" x2="502.3" y2="348.6" stroke="#46185f" stroke-width="1.0"/>
<rect x="0" y="0" width="520" height="1.3" fill="#111"/>
<rect x="0" y="0" width="1.5" height="532" fill="#222"/>
<rect x="518.4" y="0" width="1.6" height="532" fill="#111"/>
<rect x="0" y="530.1" width="520" height="1.9" fill="#111"/>
</svg>
</body></html>
